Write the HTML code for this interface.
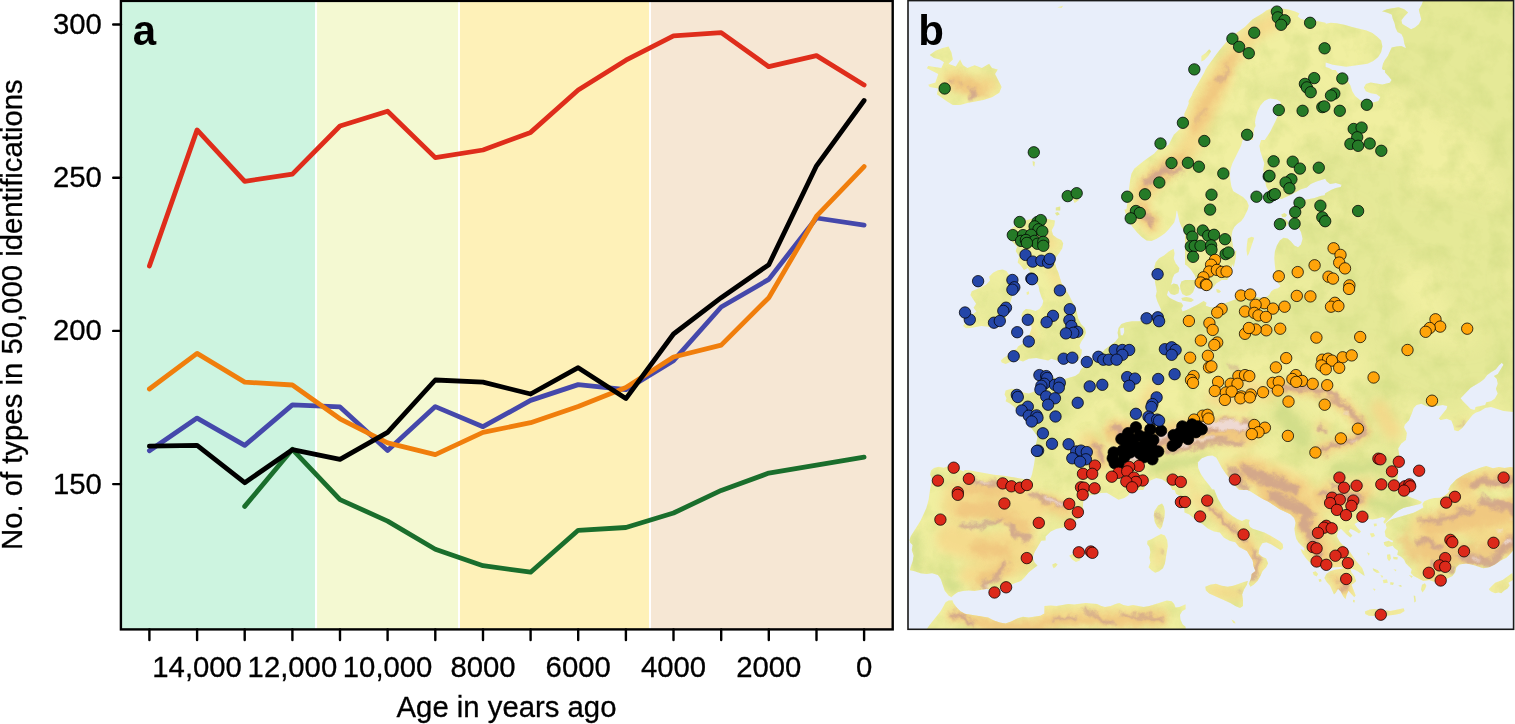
<!DOCTYPE html>
<html><head><meta charset="utf-8"><title>Figure</title>
<style>
html,body{margin:0;padding:0;background:#fff;}
body{width:1515px;height:724px;overflow:hidden;}
svg{display:block;}
.t{font-family:"Liberation Sans",Arial,Helvetica,sans-serif;font-size:29.3px;fill:#000;stroke:#000;stroke-width:0.3px;}
.b{font-family:"Liberation Sans",Arial,Helvetica,sans-serif;font-size:42px;font-weight:bold;fill:#000;}
</style></head><body>
<svg width="1515" height="724" viewBox="0 0 1515 724">
<rect width="1515" height="724" fill="#fff"/>
<rect x="120.9" y="0" width="195.15" height="629.4" fill="#cdf4e0"/>
<rect x="316.05" y="0" width="142.95" height="629.4" fill="#f4f9d2"/>
<rect x="459.0" y="0" width="191.0" height="629.4" fill="#fef1b8"/>
<rect x="650.0" y="0" width="242.70000000000005" height="629.4" fill="#f6e7d4"/>
<line x1="316.05" y1="0" x2="316.05" y2="629.4" stroke="#fff" stroke-width="2.05"/>
<line x1="459.0" y1="0" x2="459.0" y2="629.4" stroke="#fff" stroke-width="2.05"/>
<line x1="650.0" y1="0" x2="650.0" y2="629.4" stroke="#fff" stroke-width="2.05"/>
<polyline points="244.7,506.4 292.4,449.3 340.0,499.6 387.6,521.1 435.3,549.2 483.0,565.7 530.6,572.2 578.2,530.3 625.9,527.5 673.5,513.0 721.2,490.4 768.8,473.1 816.5,465.1 864.1,457.1" fill="none" stroke="#1a6e2c" stroke-width="4.8" stroke-linejoin="round" stroke-linecap="round"/>
<polyline points="149.4,450.7 197.1,418.1 244.7,445.4 292.4,404.8 340.0,406.9 387.6,450.4 435.3,406.6 483.0,426.7 530.6,400.4 578.2,384.6 625.9,389.7 673.5,360.6 721.2,307.0 768.8,279.4 816.5,218.0 864.1,225.1" fill="none" stroke="#4548ab" stroke-width="4.8" stroke-linejoin="round" stroke-linecap="round"/>
<polyline points="149.4,389.0 197.1,353.4 244.7,382.1 292.4,385.0 340.0,418.8 387.6,442.8 435.3,454.7 483.0,432.4 530.6,422.7 578.2,406.5 625.9,387.5 673.5,357.0 721.2,345.1 768.8,297.7 816.5,216.2 864.1,166.6" fill="none" stroke="#f07e0c" stroke-width="4.8" stroke-linejoin="round" stroke-linecap="round"/>
<polyline points="149.4,266.0 197.1,129.9 244.7,181.3 292.4,174.1 340.0,126.0 387.6,111.2 435.3,157.6 483.0,150.0 530.6,132.4 578.2,90.0 625.9,60.2 673.5,35.8 721.2,32.6 768.8,66.7 816.5,55.6 864.1,85.0" fill="none" stroke="#df2d1b" stroke-width="4.8" stroke-linejoin="round" stroke-linecap="round"/>
<polyline points="149.4,446.1 197.1,445.4 244.7,482.7 292.4,449.7 340.0,459.4 387.6,432.4 435.3,380.0 483.0,382.1 530.6,394.0 578.2,367.7 625.9,398.6 673.5,334.0 721.2,297.7 768.8,264.7 816.5,165.8 864.1,100.5" fill="none" stroke="#000" stroke-width="4.8" stroke-linejoin="round" stroke-linecap="round"/>
<rect x="120.9" y="0.9" width="771.8000000000001" height="628.5" fill="none" stroke="#000" stroke-width="2.4"/>
<line x1="149.4" y1="629.4" x2="149.4" y2="640" stroke="#000" stroke-width="2.4" stroke-linecap="round"/>
<line x1="197.1" y1="629.4" x2="197.1" y2="640" stroke="#000" stroke-width="2.4" stroke-linecap="round"/>
<line x1="244.7" y1="629.4" x2="244.7" y2="640" stroke="#000" stroke-width="2.4" stroke-linecap="round"/>
<line x1="292.4" y1="629.4" x2="292.4" y2="640" stroke="#000" stroke-width="2.4" stroke-linecap="round"/>
<line x1="340.0" y1="629.4" x2="340.0" y2="640" stroke="#000" stroke-width="2.4" stroke-linecap="round"/>
<line x1="387.6" y1="629.4" x2="387.6" y2="640" stroke="#000" stroke-width="2.4" stroke-linecap="round"/>
<line x1="435.3" y1="629.4" x2="435.3" y2="640" stroke="#000" stroke-width="2.4" stroke-linecap="round"/>
<line x1="483.0" y1="629.4" x2="483.0" y2="640" stroke="#000" stroke-width="2.4" stroke-linecap="round"/>
<line x1="530.6" y1="629.4" x2="530.6" y2="640" stroke="#000" stroke-width="2.4" stroke-linecap="round"/>
<line x1="578.2" y1="629.4" x2="578.2" y2="640" stroke="#000" stroke-width="2.4" stroke-linecap="round"/>
<line x1="625.9" y1="629.4" x2="625.9" y2="640" stroke="#000" stroke-width="2.4" stroke-linecap="round"/>
<line x1="673.5" y1="629.4" x2="673.5" y2="640" stroke="#000" stroke-width="2.4" stroke-linecap="round"/>
<line x1="721.2" y1="629.4" x2="721.2" y2="640" stroke="#000" stroke-width="2.4" stroke-linecap="round"/>
<line x1="768.8" y1="629.4" x2="768.8" y2="640" stroke="#000" stroke-width="2.4" stroke-linecap="round"/>
<line x1="816.5" y1="629.4" x2="816.5" y2="640" stroke="#000" stroke-width="2.4" stroke-linecap="round"/>
<line x1="864.1" y1="629.4" x2="864.1" y2="640" stroke="#000" stroke-width="2.4" stroke-linecap="round"/>
<line x1="113.2" y1="24.5" x2="120.9" y2="24.5" stroke="#000" stroke-width="2.4" stroke-linecap="round"/>
<text transform="translate(101.8,34.0) scale(1,1.0)" text-anchor="end" class="t">300</text>
<line x1="113.2" y1="177.7" x2="120.9" y2="177.7" stroke="#000" stroke-width="2.4" stroke-linecap="round"/>
<text transform="translate(101.8,187.2) scale(1,1.0)" text-anchor="end" class="t">250</text>
<line x1="113.2" y1="330.9" x2="120.9" y2="330.9" stroke="#000" stroke-width="2.4" stroke-linecap="round"/>
<text transform="translate(101.8,340.4) scale(1,1.0)" text-anchor="end" class="t">200</text>
<line x1="113.2" y1="484.1" x2="120.9" y2="484.1" stroke="#000" stroke-width="2.4" stroke-linecap="round"/>
<text transform="translate(101.8,493.6) scale(1,1.0)" text-anchor="end" class="t">150</text>
<text transform="translate(197.1,676.5) scale(1,1.0)" text-anchor="middle" class="t">14,000</text>
<text transform="translate(292.4,676.5) scale(1,1.0)" text-anchor="middle" class="t">12,000</text>
<text transform="translate(387.6,676.5) scale(1,1.0)" text-anchor="middle" class="t">10,000</text>
<text transform="translate(483.0,676.5) scale(1,1.0)" text-anchor="middle" class="t">8000</text>
<text transform="translate(578.2,676.5) scale(1,1.0)" text-anchor="middle" class="t">6000</text>
<text transform="translate(673.5,676.5) scale(1,1.0)" text-anchor="middle" class="t">4000</text>
<text transform="translate(768.8,676.5) scale(1,1.0)" text-anchor="middle" class="t">2000</text>
<text transform="translate(864.1,676.5) scale(1,1.0)" text-anchor="middle" class="t">0</text>
<text transform="translate(506.5,716.8) scale(1,1.0)" text-anchor="middle" class="t">Age in years ago</text>
<text transform="translate(22.0,314.7) rotate(-90) scale(1,1.0)" text-anchor="middle" class="t">No. of types in 50,000 identifications</text>
<text x="132.8" y="45" class="b">a</text>
<defs>
<clipPath id="mapclip"><rect x="908.0" y="0.0" width="605.5999999999999" height="629.3"/></clipPath>
<clipPath id="landclip"><path d="M909.4,540.6L910.1,540.8L909.8,542.2L912.7,545.1L911.8,549.9L913.7,555.8L912.7,561.5L910.8,566.4L909.8,570.2L914.7,571.2L920.5,573.2L926.3,574.1L932.1,573.2L937.9,575.1L940.8,579.0L944.6,590.6L948.5,595.4L951.4,597.3L954.3,594.4L958.1,592.1L963.0,590.9L968.8,590.6L974.6,590.9L986.2,589.0L992.0,589.6L997.8,589.0L1005.6,586.7L1021.0,580.9L1024.9,577.0L1028.8,572.2L1037.5,565.4L1034.6,562.5L1032.6,557.6L1034.6,551.9L1041.3,540.7L1045.6,540.6L1045.6,536.6L1050.8,531.6L1056.6,528.7L1066.3,527.1L1072.1,522.5L1081.7,516.1L1083.7,511.3L1082.9,506.4L1083.3,501.6L1084.7,497.7L1089.5,495.4L1101.1,492.9L1106.8,492.7L1118.5,499.7L1124.3,498.1L1128.1,495.4L1131.5,490.0L1143.3,490.0L1145.6,485.3L1150.4,480.6L1156.3,478.0L1162.0,479.2L1166.9,482.4L1170.7,486.3L1172.2,490.0L1174.6,490.1L1176.1,493.9L1184.3,497.9L1184.4,512.4L1188.9,514.2L1194.7,519.0L1202.4,523.9L1208.2,528.7L1214.0,531.6L1219.8,532.6L1223.7,537.4L1229.5,540.7L1235.3,542.2L1239.1,547.0L1246.9,550.9L1252.7,560.6L1253.6,566.4L1255.5,571.1L1251.7,574.1L1250.7,578.9L1248.8,583.8L1250.4,586.7L1253.6,584.8L1257.5,580.9L1260.4,576.0L1262.4,571.2L1266.2,567.3L1268.1,563.5L1266.2,558.6L1262.3,556.7L1258.5,553.8L1259.5,548.0L1262.3,543.3L1266.3,542.2L1271.1,544.2L1280.7,550.3L1283.2,548.0L1282.7,544.1L1279.8,541.2L1270.1,535.4L1264.3,532.5L1252.7,528.7L1249.9,526.8L1248.8,522.9L1249.8,520.0L1245.9,519.0L1242.0,520.9L1237.2,519.0L1232.4,516.1L1227.6,512.2L1223.7,508.4L1217.9,498.7L1214.2,489.4L1212.1,489.3L1209.4,485.4L1204.6,479.5L1200.7,473.8L1198.2,467.9L1197.8,462.2L1201.7,458.3L1207.5,456.0L1212.3,455.4L1216.2,457.4L1222.0,468.0L1225.9,473.8L1229.7,478.6L1233.6,484.4L1239.2,490.0L1247.3,490.0L1249.8,491.0L1262.3,498.7L1268.2,501.6L1279.8,509.3L1290.4,514.2L1294.2,518.0L1295.6,522.8L1294.4,528.7L1295.2,534.5L1296.4,539.3L1299.1,543.2L1304.4,548.2L1304.2,551.6L1303.0,549.9L1300.6,549.0L1302.0,552.8L1303.9,555.4L1304.3,555.4L1304.4,556.2L1306.9,559.6L1310.8,563.5L1316.6,566.4L1328.2,568.3L1334.0,567.3L1340.7,567.0L1343.5,567.9L1343.4,568.5L1335.0,569.7L1330.1,571.2L1326.3,574.1L1324.3,578.0L1326.7,581.9L1330.1,585.7L1334.0,594.4L1335.9,592.5L1338.0,588.8L1340.8,591.5L1343.3,596.4L1345.6,599.3L1346.6,594.4L1348.5,590.8L1354.3,597.3L1355.7,595.4L1351.5,584.8L1354.3,582.8L1356.2,580.9L1354.3,576.0L1351.4,572.2L1350.6,569.1L1353.8,569.3L1357.6,571.2L1364.6,576.0L1364.0,572.8L1362.0,567.7L1355.7,560.6L1349.9,551.9L1346.6,548.0L1342.7,545.1L1339.4,541.2L1336.9,536.4L1337.9,531.6L1340.9,528.8L1346.6,534.5L1350.4,537.4L1352.4,535.4L1348.6,531.6L1350.4,528.8L1354.3,530.6L1359.1,533.5L1361.1,531.6L1357.2,527.7L1354.5,524.0L1358.2,521.9L1363.0,520.0L1367.8,519.0L1372.7,519.4L1377.5,518.6L1382.4,517.1L1385.6,518.6L1383.3,521.9L1384.7,523.8L1394.9,513.2L1398.8,510.3L1403.6,507.8L1420.1,503.9L1422.0,502.0L1417.1,499.7L1411.3,497.7L1405.5,494.8L1399.8,492.9L1396.4,489.4L1396.7,483.4L1397.8,475.7L1399.2,454.4L1398.2,448.6L1401.1,443.8L1405.9,439.9L1406.9,433.1L1404.0,427.3L1405.0,424.4L1408.8,420.6L1411.7,413.8L1413.7,408.0L1416.6,405.1L1421.4,403.8L1427.2,406.5L1436.9,406.1L1442.7,405.1L1447.3,406.0L1446.5,409.0L1438.8,418.6L1440.7,420.0L1446.6,418.7L1451.3,420.6L1453.3,425.4L1454.3,430.2L1458.1,431.2L1462.0,428.3L1472.7,414.8L1475.6,412.8L1480.4,410.9L1485.2,408.0L1491.0,407.1L1503.6,410.9L1515.6,412.2L1515.6,0.0L1423.3,0.0L1421.7,4.8L1418.8,9.7L1421.3,19.4L1418.8,24.2L1414.9,27.5L1411.1,29.3L1402.3,24.1L1401.4,20.2L1404.3,16.4L1408.1,12.6L1404.3,9.3L1398.5,7.3L1386.9,9.3L1382.0,11.2L1386.9,12.6L1391.7,14.5L1392.7,18.4L1394.6,23.2L1395.6,28.0L1397.5,31.9L1401.4,33.9L1403.3,37.7L1404.3,43.5L1405.9,47.8L1405.5,48.0L1401.4,46.0L1396.5,46.4L1391.7,47.4L1387.8,56.1L1384.9,59.9L1383.0,63.8L1382.0,68.6L1383.1,70.0L1384.9,70.1L1385.0,72.6L1388.8,76.4L1391.6,80.1L1389.8,82.7L1382.3,84.5L1370.7,82.6L1365.9,83.9L1363.9,87.4L1365.9,91.3L1370.7,93.2L1376.5,94.2L1380.3,97.1L1378.4,100.9L1372.6,102.5L1365.9,101.9L1360.0,99.9L1355.2,96.1L1352.3,91.3L1350.4,85.5L1347.5,80.6L1343.6,75.8L1337.8,72.9L1335.6,70.0L1332.5,70.0L1328.9,68.1L1325.6,66.9L1325.6,62.8L1325.9,62.5L1332.7,64.8L1346.3,66.7L1367.5,63.8L1373.3,60.9L1378.2,57.0L1381.1,52.2L1382.4,46.4L1381.1,40.6L1377.2,36.7L1372.4,32.9L1366.6,30.6L1352.1,27.1L1344.3,24.7L1336.6,23.2L1330.8,22.8L1325.9,23.8L1325.6,22.7L1318.4,21.3L1306.8,20.3L1301.1,19.0L1297.7,16.4L1299.5,13.5L1295.2,11.6L1289.4,9.7L1283.6,8.7L1275.9,6.8L1266.2,10.6L1262.3,13.5L1252.7,19.3L1244.9,27.1L1234.3,34.4L1230.4,37.7L1226.6,41.6L1217.9,52.2L1207.2,66.7L1205.9,69.3L1205.5,69.4L1204.3,72.5L1192.7,92.8L1191.8,95.4L1188.5,100.9L1188.8,103.4L1186.9,108.3L1184.4,113.4L1184.4,122.9L1181.6,127.6L1173.8,134.8L1168.8,144.5L1165.0,147.3L1161.1,147.3L1157.6,149.7L1154.3,153.5L1143.7,160.9L1134.4,168.6L1131.5,173.5L1130.1,180.2L1126.5,209.2L1124.4,209.4L1126.3,215.8L1129.2,221.6L1132.1,226.4L1136.9,232.2L1141.7,237.1L1146.6,240.6L1151.4,240.9L1156.2,239.0L1161.1,236.1L1165.0,233.2L1168.8,229.3L1174.2,222.6L1175.6,217.7L1176.6,210.8L1177.1,210.7L1179.4,221.6L1181.4,226.4L1184.3,231.3L1185.0,235.6L1185.0,264.4L1186.9,265.7L1190.8,269.6L1194.7,275.3L1196.2,280.0L1198.0,280.1L1199.8,284.4L1202.7,288.3L1206.5,290.2L1210.4,290.2L1213.3,287.3L1216.2,283.5L1221.7,280.0L1227.2,280.0L1228.5,277.3L1232.6,264.5L1233.2,264.6L1233.0,267.6L1234.1,265.7L1235.7,257.9L1236.4,250.6L1234.9,251.2L1234.6,252.7L1234.1,252.8L1231.4,236.7L1232.4,230.9L1234.3,227.0L1237.2,224.1L1241.1,221.2L1244.0,217.3L1247.8,209.6L1248.8,205.7L1246.9,200.9L1243.0,197.1L1233.3,191.2L1231.4,186.4L1230.4,180.6L1229.9,174.8L1230.5,169.0L1232.4,163.2L1241.1,145.8L1242.7,140.1L1252.8,140.0L1254.3,128.2L1255.6,126.1L1255.0,122.4L1255.6,118.0L1257.5,111.2L1260.4,105.4L1264.3,100.9L1268.1,99.1L1270.2,98.6L1276.9,99.4L1280.4,101.7L1280.7,102.3L1280.2,107.7L1278.3,114.5L1275.9,120.3L1270.1,131.9L1264.8,139.9L1261.1,140.0L1259.4,145.8L1260.4,151.6L1264.3,163.2L1263.3,169.0L1263.9,174.8L1266.2,186.4L1268.5,190.7L1272.0,195.1L1276.9,198.0L1281.7,199.0L1290.4,195.1L1301.0,189.3L1306.8,187.4L1310.7,184.1L1316.5,181.6L1325.2,178.8L1326.6,181.2L1330.1,184.1L1335.9,183.1L1341.6,184.7L1340.7,187.0L1335.9,188.0L1331.0,189.9L1325.0,193.5L1324.8,195.3L1320.4,196.1L1314.6,198.0L1303.0,200.3L1298.1,202.3L1293.7,206.1L1291.0,210.0L1289.4,214.4L1293.3,224.1L1298.1,226.7L1301.0,231.9L1302.6,238.7L1301.0,244.4L1298.1,247.2L1294.3,245.4L1291.0,241.5L1287.5,238.6L1283.6,237.7L1279.8,240.6L1276.9,245.4L1274.9,251.2L1274.3,258.0L1274.9,265.7L1276.7,280.0L1278.3,283.5L1280.6,286.1L1277.9,288.3L1274.0,289.3L1271.1,291.6L1269.2,295.1L1266.2,297.0L1261.4,298.0L1245.0,295.2L1244.8,297.4L1236.5,299.0L1213.3,307.6L1209.4,307.1L1205.8,305.8L1206.5,302.8L1203.6,300.9L1197.8,304.4L1186.2,310.2L1182.5,311.4L1181.4,308.6L1183.3,305.7L1181.4,302.8L1177.5,301.8L1169.8,298.0L1166.9,295.1L1168.3,290.4L1170.8,294.1L1174.6,295.1L1178.5,293.2L1179.4,288.3L1177.5,284.4L1173.6,283.5L1171.2,284.7L1170.8,284.5L1171.7,282.5L1172.7,277.7L1174.6,273.9L1178.5,271.9L1179.4,268.0L1175.6,263.2L1173.7,258.4L1174.6,253.5L1173.6,248.7L1168.8,251.6L1164.0,255.4L1159.1,258.3L1155.7,262.2L1154.3,267.0L1155.7,276.7L1154.9,281.5L1156.8,291.2L1155.7,296.0L1157.2,300.9L1161.1,309.6L1160.1,313.5L1158.2,317.3L1154.3,319.3L1149.5,320.2L1143.7,321.2L1132.1,321.2L1126.3,322.2L1121.4,324.1L1118.5,328.0L1117.6,332.8L1118.5,337.6L1115.6,341.5L1104.4,349.7L1104.3,350.6L1094.6,358.7L1088.8,362.6L1083.9,366.4L1081.0,369.3L1079.1,373.2L1075.2,376.1L1064.6,379.0L1059.8,379.0L1054.0,378.1L1050.1,375.1L1046.2,371.3L1041.4,370.3L1037.5,372.2L1036.5,377.1L1038.5,381.9L1039.4,386.7L1037.4,390.6L1028.8,393.5L1023.0,392.5L1017.2,389.6L1011.4,388.7L1005.6,390.6L1004.6,394.5L1006.5,398.3L1005.6,401.2L1009.5,403.2L1013.5,406.2L1020.9,413.6L1024.9,419.6L1036.9,435.5L1037.5,437.0L1036.6,441.8L1035.0,446.7L1034.2,452.5L1035.0,457.9L1033.8,465.8L1032.2,473.5L1031.1,477.0L1029.8,479.1L1024.9,479.2L1003.7,475.7L994.0,474.7L968.9,470.3L964.4,469.9L964.4,471.3L964.0,471.6L954.3,467.7L948.5,466.1L943.7,467.7L938.8,466.7L934.0,468.1L931.1,470.6L930.1,474.4L932.1,479.3L930.0,490.0L928.6,499.8L926.3,508.3L920.5,520.8L910.8,536.3ZM1475.6,407.0L1474.5,409.9L1470.7,409.0L1463.0,401.3L1460.6,398.2L1470.7,387.7L1480.4,381.9L1484.2,379.0L1487.2,375.1L1491.0,372.2L1495.9,369.3L1498.8,365.5L1501.8,362.7L1503.5,364.7L1497.8,374.1L1493.9,376.1L1496.8,379.1L1497.8,383.8L1495.9,388.7L1497.7,393.6L1494.9,398.4L1491.0,401.2L1486.2,402.2L1485.2,405.1ZM1123.6,327.6L1124.0,327.9L1124.3,331.9L1122.8,335.6L1120.7,335.3L1120.1,328.5ZM1383.7,542.2L1384.3,545.1L1387.0,547.0L1392.0,546.1L1392.5,545.6L1394.3,548.0L1398.1,550.8L1397.2,554.8L1401.1,556.7L1404.0,559.6L1405.9,563.5L1411.7,569.2L1410.8,573.1L1413.7,576.0L1423.3,580.9L1429.2,579.9L1434.9,581.9L1440.7,580.9L1448.5,578.0L1452.4,576.0L1455.2,572.2L1456.2,567.4L1459.2,564.4L1465.9,563.5L1471.7,564.4L1483.3,568.3L1489.1,567.3L1494.9,564.5L1500.7,560.6L1506.5,557.7L1510.4,553.8L1513.4,550.0L1515.6,548.4L1515.6,468.2L1510.4,467.0L1504.6,468.0L1498.8,467.0L1493.0,468.3L1486.2,466.0L1479.4,468.0L1471.7,470.9L1463.9,474.7L1456.2,479.6L1450.4,485.4L1448.1,490.0L1449.4,490.0L1449.6,490.5L1448.1,492.9L1444.6,495.8L1439.8,497.7L1434.0,498.1L1429.1,499.3L1424.3,501.2L1422.4,503.9L1423.3,507.4L1418.5,510.3L1413.7,512.8L1392.4,519.0L1388.5,520.9L1385.6,523.8L1386.6,527.7L1384.7,531.6L1385.6,536.4L1389.5,539.3L1393.2,540.9L1392.2,542.6L1388.5,540.7ZM1488.9,589.0L1489.7,590.4L1491.6,591.7L1495.1,593.3L1498.5,592.5L1501.3,593.3L1504.2,590.4L1507.5,588.4L1509.6,585.5L1508.4,582.8L1513.1,580.1L1512.3,573.0L1502.6,580.1L1495.1,582.8ZM1421.0,589.6L1422.4,592.5L1424.9,589.6L1426.4,585.7L1424.9,583.2L1422.0,584.8ZM1413.7,595.4L1414.4,602.5L1414.4,602.5L1416.0,601.2L1415.2,596.0ZM1408.8,575.1L1411.7,578.0L1411.7,578.0L1412.7,576.0ZM1364.9,611.4L1365.3,614.1L1368.8,615.7L1374.6,616.1L1386.6,615.7L1394.9,614.7L1400.7,613.4L1404.6,610.9L1403.6,608.3L1390.5,610.9L1374.4,609.0L1369.8,609.5ZM1398.2,585.7L1401.7,587.1L1401.7,587.1L1401.1,585.1ZM1393.0,556.7L1393.6,559.2L1397.4,559.6L1397.8,557.3ZM1393.4,569.3L1395.9,571.6L1395.9,571.6L1396.3,569.7ZM1390.1,584.4L1393.0,585.1L1393.9,582.8L1390.5,581.9ZM1387.0,554.8L1387.2,558.6L1389.1,561.2L1391.0,558.6L1390.1,554.2ZM1382.7,579.9L1383.5,583.2L1387.8,582.8L1387.0,579.3ZM1383.3,576.0L1380.4,575.1L1382.0,578.0ZM1372.7,568.3L1373.6,570.8L1376.9,573.1L1379.8,572.8L1377.9,570.2ZM1373.6,523.8L1374.2,526.4L1376.9,525.8L1376.5,523.5ZM1372.7,588.6L1374.6,590.9L1374.6,590.9L1375.6,589.0ZM1369.8,533.5L1371.7,537.4L1375.0,536.0L1373.6,532.9ZM1366.9,552.3L1368.8,555.7L1368.8,555.7L1369.8,553.4ZM1353.0,602.1L1354.5,602.5L1354.9,600.2L1353.0,599.8ZM1318.5,579.3L1319.3,582.0L1321.6,581.3L1320.9,579.0ZM1312.7,572.2L1313.7,575.1L1316.6,576.6L1318.1,574.1L1315.6,571.2ZM1274.9,221.2L1276.9,227.0L1281.7,228.0L1286.5,226.0L1288.5,222.2L1285.6,219.3L1279.8,218.3ZM1281.3,214.4L1282.1,217.0L1285.2,217.3L1287.1,215.0L1284.6,213.1ZM1247.3,256.0L1248.8,254.1L1254.2,237.7L1251.7,236.7L1247.8,238.6L1246.9,244.4L1246.5,250.2ZM1205.3,586.7L1205.9,590.6L1209.2,593.5L1230.4,603.1L1235.3,606.0L1240.1,608.0L1243.0,606.0L1243.0,600.2L1242.1,594.4L1244.0,589.6L1246.9,584.8L1247.8,580.9L1244.0,581.9L1233.3,585.7L1227.6,586.7L1221.7,585.7L1215.9,583.8L1210.1,584.8ZM1231.4,619.6L1233.3,623.0L1235.7,623.4L1234.3,621.1ZM1216.2,288.9L1216.8,292.2L1219.1,293.1L1221.0,291.6L1219.1,289.7ZM1201.4,61.5L1204.3,59.9L1208.2,56.1L1211.1,51.2L1209.2,49.3L1205.3,53.2L1201.4,56.1ZM1180.0,285.4L1180.4,289.3L1182.3,294.1L1186.2,296.0L1190.1,295.1L1193.0,292.2L1194.9,287.4L1195.9,282.5L1195.4,280.0L1185.2,280.0L1181.4,281.5ZM1181.4,298.0L1182.3,300.5L1186.2,301.3L1191.0,301.9L1193.9,299.9L1191.0,298.0L1186.2,297.0ZM926.1,630.0L1044.1,630.0L1044.4,630.6L1185.6,630.6L1185.6,626.8L1182.7,624.4L1180.4,619.6L1180.0,614.8L1182.3,610.9L1185.6,609.2L1185.6,604.3L1179.4,607.0L1175.6,607.5L1174.2,604.1L1171.7,601.2L1166.8,600.6L1149.4,606.0L1143.6,607.0L1133.0,605.1L1128.1,606.0L1123.3,605.1L1119.4,603.1L1115.6,604.1L1110.7,606.0L1105.0,607.0L1101.1,606.0L1097.2,604.1L1085.6,603.1L1074.0,604.5L1068.2,604.1L1056.6,606.0L1050.8,605.6L1044.4,606.0L1044.4,613.6L1040.4,615.7L1028.8,617.6L1023.0,616.7L1017.1,618.6L1011.3,621.5L1005.5,623.4L999.7,622.5L993.9,620.5L988.1,617.6L964.9,613.7L960.1,610.9L956.3,607.0L953.4,603.1L952.4,600.2L948.5,600.6L945.6,602.2L940.8,610.9L929.2,625.4ZM1147.1,544.1L1149.4,547.1L1150.4,551.9L1149.4,557.7L1150.4,562.5L1148.5,567.3L1151.4,570.2L1155.2,572.8L1159.1,571.2L1163.0,568.3L1164.9,563.5L1167.8,546.1L1167.2,540.3L1164.9,535.4L1161.0,534.1L1156.2,536.4L1151.4,539.3L1147.5,540.7ZM1153.7,516.1L1154.8,521.9L1157.2,526.7L1160.1,529.6L1162.0,526.7L1164.5,517.1L1164.9,511.3L1163.9,506.4L1162.0,503.5L1158.1,505.5L1154.3,511.3ZM1088.5,549.9L1089.1,552.3L1092.4,553.4L1095.7,551.5L1093.3,549.0ZM1000.8,360.6L1001.7,362.6L1005.6,363.9L1011.4,361.6L1018.1,360.1L1023.0,361.6L1028.8,358.7L1036.5,358.1L1048.1,360.6L1051.2,358.7L1061.7,362.0L1067.5,363.1L1073.3,363.1L1077.5,361.2L1080.1,357.7L1081.4,353.9L1081.9,349.4L1080.5,349.3L1079.5,345.7L1081.0,341.9L1084.1,337.6L1086.0,332.8L1084.9,328.0L1081.0,324.1L1078.1,318.3L1076.8,312.5L1074.8,306.7L1069.0,295.1L1061.7,283.5L1058.2,272.3L1056.3,268.0L1054.9,262.6L1055.9,257.4L1059.4,252.9L1062.3,248.3L1063.2,243.3L1061.3,240.0L1056.9,238.0L1053.0,235.1L1051.7,230.3L1054.3,225.5L1054.9,220.6L1042.3,218.1L1032.7,218.7L1025.0,220.6L1017.2,224.5L1011.4,228.4L1007.5,233.2L1009.5,239.0L1017.1,246.7L1015.7,251.0L1019.1,256.4L1017.6,262.6L1021.1,266.1L1024.0,269.9L1027.8,268.1L1030.3,271.8L1027.3,276.7L1026.5,281.9L1030.7,284.4L1036.7,283.6L1038.5,285.8L1039.5,291.2L1041.4,297.0L1043.3,300.9L1042.3,305.1L1039.4,309.0L1035.6,310.9L1030.7,309.6L1025.9,309.0L1023.0,311.5L1021.1,315.4L1023.0,318.3L1026.9,320.2L1030.8,323.2L1031.7,328.0L1029.8,333.8L1026.9,339.5L1023.0,343.4L1018.2,346.3L1016.4,349.3L1015.0,349.4L1013.3,352.0L1003.7,357.7ZM1069.2,555.7L1072.1,559.6L1075.9,561.9L1079.8,560.6L1080.8,557.7L1077.9,554.8L1073.0,553.8ZM1071.8,197.2L1074.7,203.0L1079.0,200.1L1076.1,195.8ZM1057.3,7.3L1061.6,8.1L1063.1,5.8L1063.1,5.8ZM1055.8,210.6L1060.2,210.6L1060.2,206.5L1055.8,207.4ZM1054.9,212.9L1056.9,215.8L1059.8,214.3L1057.8,211.9ZM1052.3,564.4L1052.7,566.4L1053.7,568.3L1055.6,567.0L1057.6,564.4L1055.6,563.1ZM1032.6,161.0L1032.9,165.3L1034.4,166.8L1034.9,161.9ZM1026.5,292.2L1026.9,295.1L1029.2,294.1L1028.8,291.2ZM963.0,326.0L965.9,328.3L970.8,328.0L981.4,326.0L993.0,327.2L997.8,326.0L1002.1,323.7L1005.2,319.3L1007.1,314.4L1008.5,308.6L1013.7,291.2L1014.3,284.5L1011.4,279.6L1009.0,274.8L1006.5,270.9L1002.6,269.6L997.8,270.3L993.0,272.8L989.1,276.7L990.0,280.6L986.2,284.4L981.4,287.3L971.7,291.2L970.4,295.1L976.1,303.7L973.6,307.7L976.4,311.5L972.7,314.4L969.8,317.3L968.4,321.2L965.3,323.1ZM926.8,68.2L938.3,74.1L935.4,82.6L928.2,84.7L929.7,87.0L938.2,88.5L936.9,94.3L947.1,101.5L952.9,105.0L960.1,105.0L967.4,103.0L983.3,100.1L992.0,97.2L999.3,92.8L1001.6,87.0L995.0,74.0L997.8,69.6L992.0,68.1L989.1,63.8L981.9,68.1L974.6,65.3L967.4,68.1L963.0,65.2L960.1,59.5L955.8,66.6L948.9,63.9L948.8,63.5L952.9,59.5L951.4,52.2L948.5,46.4L942.7,47.9L935.5,50.8L929.7,55.1L934.0,58.0L939.8,59.5L944.0,62.3L941.3,68.0L928.2,66.1Z"/></clipPath>
<filter id="bl_green" x="880" y="-30" width="670" height="700" filterUnits="userSpaceOnUse" primitiveUnits="userSpaceOnUse" color-interpolation-filters="sRGB"><feGaussianBlur stdDeviation="9.0"/></filter>
<filter id="bl_orange" x="880" y="-30" width="670" height="700" filterUnits="userSpaceOnUse" primitiveUnits="userSpaceOnUse" color-interpolation-filters="sRGB"><feGaussianBlur stdDeviation="5.0"/></filter>
<filter id="bl_dorange" x="880" y="-30" width="670" height="700" filterUnits="userSpaceOnUse" primitiveUnits="userSpaceOnUse" color-interpolation-filters="sRGB"><feTurbulence type="fractalNoise" baseFrequency="0.09" numOctaves="3" seed="7" result="n"/><feGaussianBlur in="SourceGraphic" stdDeviation="3.0" result="b"/><feDisplacementMap in="b" in2="n" scale="10" xChannelSelector="R" yChannelSelector="G"/></filter>
<filter id="bl_green2" x="880" y="-30" width="670" height="700" filterUnits="userSpaceOnUse" primitiveUnits="userSpaceOnUse" color-interpolation-filters="sRGB"><feTurbulence type="fractalNoise" baseFrequency="0.09" numOctaves="3" seed="7" result="n"/><feGaussianBlur in="SourceGraphic" stdDeviation="3.0" result="b"/><feDisplacementMap in="b" in2="n" scale="6" xChannelSelector="R" yChannelSelector="G"/></filter>
<filter id="bl_brown" x="880" y="-30" width="670" height="700" filterUnits="userSpaceOnUse" primitiveUnits="userSpaceOnUse" color-interpolation-filters="sRGB"><feTurbulence type="fractalNoise" baseFrequency="0.09" numOctaves="3" seed="7" result="n"/><feGaussianBlur in="SourceGraphic" stdDeviation="1.6" result="b"/><feDisplacementMap in="b" in2="n" scale="12" xChannelSelector="R" yChannelSelector="G"/></filter>
<filter id="bl_white" x="880" y="-30" width="670" height="700" filterUnits="userSpaceOnUse" primitiveUnits="userSpaceOnUse" color-interpolation-filters="sRGB"><feTurbulence type="fractalNoise" baseFrequency="0.09" numOctaves="3" seed="7" result="n"/><feGaussianBlur in="SourceGraphic" stdDeviation="0.8" result="b"/><feDisplacementMap in="b" in2="n" scale="6" xChannelSelector="R" yChannelSelector="G"/></filter>
<filter id="tex" x="900" y="-5" width="620" height="640" filterUnits="userSpaceOnUse" primitiveUnits="userSpaceOnUse" color-interpolation-filters="sRGB"><feTurbulence type="fractalNoise" baseFrequency="0.045" numOctaves="4" seed="3"/><feColorMatrix type="matrix" values="0 0 0 0 0.78  0 0 0 0 0.84  0 0 0 0 0.48  2.2 0 0 0 -0.95"/></filter>
</defs>
<g clip-path="url(#mapclip)">
<rect x="908.0" y="0.0" width="605.5999999999999" height="629.3" fill="#e8eefa"/>
<path d="M909.4,540.6L910.1,540.8L909.8,542.2L912.7,545.1L911.8,549.9L913.7,555.8L912.7,561.5L910.8,566.4L909.8,570.2L914.7,571.2L920.5,573.2L926.3,574.1L932.1,573.2L937.9,575.1L940.8,579.0L944.6,590.6L948.5,595.4L951.4,597.3L954.3,594.4L958.1,592.1L963.0,590.9L968.8,590.6L974.6,590.9L986.2,589.0L992.0,589.6L997.8,589.0L1005.6,586.7L1021.0,580.9L1024.9,577.0L1028.8,572.2L1037.5,565.4L1034.6,562.5L1032.6,557.6L1034.6,551.9L1041.3,540.7L1045.6,540.6L1045.6,536.6L1050.8,531.6L1056.6,528.7L1066.3,527.1L1072.1,522.5L1081.7,516.1L1083.7,511.3L1082.9,506.4L1083.3,501.6L1084.7,497.7L1089.5,495.4L1101.1,492.9L1106.8,492.7L1118.5,499.7L1124.3,498.1L1128.1,495.4L1131.5,490.0L1143.3,490.0L1145.6,485.3L1150.4,480.6L1156.3,478.0L1162.0,479.2L1166.9,482.4L1170.7,486.3L1172.2,490.0L1174.6,490.1L1176.1,493.9L1184.3,497.9L1184.4,512.4L1188.9,514.2L1194.7,519.0L1202.4,523.9L1208.2,528.7L1214.0,531.6L1219.8,532.6L1223.7,537.4L1229.5,540.7L1235.3,542.2L1239.1,547.0L1246.9,550.9L1252.7,560.6L1253.6,566.4L1255.5,571.1L1251.7,574.1L1250.7,578.9L1248.8,583.8L1250.4,586.7L1253.6,584.8L1257.5,580.9L1260.4,576.0L1262.4,571.2L1266.2,567.3L1268.1,563.5L1266.2,558.6L1262.3,556.7L1258.5,553.8L1259.5,548.0L1262.3,543.3L1266.3,542.2L1271.1,544.2L1280.7,550.3L1283.2,548.0L1282.7,544.1L1279.8,541.2L1270.1,535.4L1264.3,532.5L1252.7,528.7L1249.9,526.8L1248.8,522.9L1249.8,520.0L1245.9,519.0L1242.0,520.9L1237.2,519.0L1232.4,516.1L1227.6,512.2L1223.7,508.4L1217.9,498.7L1214.2,489.4L1212.1,489.3L1209.4,485.4L1204.6,479.5L1200.7,473.8L1198.2,467.9L1197.8,462.2L1201.7,458.3L1207.5,456.0L1212.3,455.4L1216.2,457.4L1222.0,468.0L1225.9,473.8L1229.7,478.6L1233.6,484.4L1239.2,490.0L1247.3,490.0L1249.8,491.0L1262.3,498.7L1268.2,501.6L1279.8,509.3L1290.4,514.2L1294.2,518.0L1295.6,522.8L1294.4,528.7L1295.2,534.5L1296.4,539.3L1299.1,543.2L1304.4,548.2L1304.2,551.6L1303.0,549.9L1300.6,549.0L1302.0,552.8L1303.9,555.4L1304.3,555.4L1304.4,556.2L1306.9,559.6L1310.8,563.5L1316.6,566.4L1328.2,568.3L1334.0,567.3L1340.7,567.0L1343.5,567.9L1343.4,568.5L1335.0,569.7L1330.1,571.2L1326.3,574.1L1324.3,578.0L1326.7,581.9L1330.1,585.7L1334.0,594.4L1335.9,592.5L1338.0,588.8L1340.8,591.5L1343.3,596.4L1345.6,599.3L1346.6,594.4L1348.5,590.8L1354.3,597.3L1355.7,595.4L1351.5,584.8L1354.3,582.8L1356.2,580.9L1354.3,576.0L1351.4,572.2L1350.6,569.1L1353.8,569.3L1357.6,571.2L1364.6,576.0L1364.0,572.8L1362.0,567.7L1355.7,560.6L1349.9,551.9L1346.6,548.0L1342.7,545.1L1339.4,541.2L1336.9,536.4L1337.9,531.6L1340.9,528.8L1346.6,534.5L1350.4,537.4L1352.4,535.4L1348.6,531.6L1350.4,528.8L1354.3,530.6L1359.1,533.5L1361.1,531.6L1357.2,527.7L1354.5,524.0L1358.2,521.9L1363.0,520.0L1367.8,519.0L1372.7,519.4L1377.5,518.6L1382.4,517.1L1385.6,518.6L1383.3,521.9L1384.7,523.8L1394.9,513.2L1398.8,510.3L1403.6,507.8L1420.1,503.9L1422.0,502.0L1417.1,499.7L1411.3,497.7L1405.5,494.8L1399.8,492.9L1396.4,489.4L1396.7,483.4L1397.8,475.7L1399.2,454.4L1398.2,448.6L1401.1,443.8L1405.9,439.9L1406.9,433.1L1404.0,427.3L1405.0,424.4L1408.8,420.6L1411.7,413.8L1413.7,408.0L1416.6,405.1L1421.4,403.8L1427.2,406.5L1436.9,406.1L1442.7,405.1L1447.3,406.0L1446.5,409.0L1438.8,418.6L1440.7,420.0L1446.6,418.7L1451.3,420.6L1453.3,425.4L1454.3,430.2L1458.1,431.2L1462.0,428.3L1472.7,414.8L1475.6,412.8L1480.4,410.9L1485.2,408.0L1491.0,407.1L1503.6,410.9L1515.6,412.2L1515.6,0.0L1423.3,0.0L1421.7,4.8L1418.8,9.7L1421.3,19.4L1418.8,24.2L1414.9,27.5L1411.1,29.3L1402.3,24.1L1401.4,20.2L1404.3,16.4L1408.1,12.6L1404.3,9.3L1398.5,7.3L1386.9,9.3L1382.0,11.2L1386.9,12.6L1391.7,14.5L1392.7,18.4L1394.6,23.2L1395.6,28.0L1397.5,31.9L1401.4,33.9L1403.3,37.7L1404.3,43.5L1405.9,47.8L1405.5,48.0L1401.4,46.0L1396.5,46.4L1391.7,47.4L1387.8,56.1L1384.9,59.9L1383.0,63.8L1382.0,68.6L1383.1,70.0L1384.9,70.1L1385.0,72.6L1388.8,76.4L1391.6,80.1L1389.8,82.7L1382.3,84.5L1370.7,82.6L1365.9,83.9L1363.9,87.4L1365.9,91.3L1370.7,93.2L1376.5,94.2L1380.3,97.1L1378.4,100.9L1372.6,102.5L1365.9,101.9L1360.0,99.9L1355.2,96.1L1352.3,91.3L1350.4,85.5L1347.5,80.6L1343.6,75.8L1337.8,72.9L1335.6,70.0L1332.5,70.0L1328.9,68.1L1325.6,66.9L1325.6,62.8L1325.9,62.5L1332.7,64.8L1346.3,66.7L1367.5,63.8L1373.3,60.9L1378.2,57.0L1381.1,52.2L1382.4,46.4L1381.1,40.6L1377.2,36.7L1372.4,32.9L1366.6,30.6L1352.1,27.1L1344.3,24.7L1336.6,23.2L1330.8,22.8L1325.9,23.8L1325.6,22.7L1318.4,21.3L1306.8,20.3L1301.1,19.0L1297.7,16.4L1299.5,13.5L1295.2,11.6L1289.4,9.7L1283.6,8.7L1275.9,6.8L1266.2,10.6L1262.3,13.5L1252.7,19.3L1244.9,27.1L1234.3,34.4L1230.4,37.7L1226.6,41.6L1217.9,52.2L1207.2,66.7L1205.9,69.3L1205.5,69.4L1204.3,72.5L1192.7,92.8L1191.8,95.4L1188.5,100.9L1188.8,103.4L1186.9,108.3L1184.4,113.4L1184.4,122.9L1181.6,127.6L1173.8,134.8L1168.8,144.5L1165.0,147.3L1161.1,147.3L1157.6,149.7L1154.3,153.5L1143.7,160.9L1134.4,168.6L1131.5,173.5L1130.1,180.2L1126.5,209.2L1124.4,209.4L1126.3,215.8L1129.2,221.6L1132.1,226.4L1136.9,232.2L1141.7,237.1L1146.6,240.6L1151.4,240.9L1156.2,239.0L1161.1,236.1L1165.0,233.2L1168.8,229.3L1174.2,222.6L1175.6,217.7L1176.6,210.8L1177.1,210.7L1179.4,221.6L1181.4,226.4L1184.3,231.3L1185.0,235.6L1185.0,264.4L1186.9,265.7L1190.8,269.6L1194.7,275.3L1196.2,280.0L1198.0,280.1L1199.8,284.4L1202.7,288.3L1206.5,290.2L1210.4,290.2L1213.3,287.3L1216.2,283.5L1221.7,280.0L1227.2,280.0L1228.5,277.3L1232.6,264.5L1233.2,264.6L1233.0,267.6L1234.1,265.7L1235.7,257.9L1236.4,250.6L1234.9,251.2L1234.6,252.7L1234.1,252.8L1231.4,236.7L1232.4,230.9L1234.3,227.0L1237.2,224.1L1241.1,221.2L1244.0,217.3L1247.8,209.6L1248.8,205.7L1246.9,200.9L1243.0,197.1L1233.3,191.2L1231.4,186.4L1230.4,180.6L1229.9,174.8L1230.5,169.0L1232.4,163.2L1241.1,145.8L1242.7,140.1L1252.8,140.0L1254.3,128.2L1255.6,126.1L1255.0,122.4L1255.6,118.0L1257.5,111.2L1260.4,105.4L1264.3,100.9L1268.1,99.1L1270.2,98.6L1276.9,99.4L1280.4,101.7L1280.7,102.3L1280.2,107.7L1278.3,114.5L1275.9,120.3L1270.1,131.9L1264.8,139.9L1261.1,140.0L1259.4,145.8L1260.4,151.6L1264.3,163.2L1263.3,169.0L1263.9,174.8L1266.2,186.4L1268.5,190.7L1272.0,195.1L1276.9,198.0L1281.7,199.0L1290.4,195.1L1301.0,189.3L1306.8,187.4L1310.7,184.1L1316.5,181.6L1325.2,178.8L1326.6,181.2L1330.1,184.1L1335.9,183.1L1341.6,184.7L1340.7,187.0L1335.9,188.0L1331.0,189.9L1325.0,193.5L1324.8,195.3L1320.4,196.1L1314.6,198.0L1303.0,200.3L1298.1,202.3L1293.7,206.1L1291.0,210.0L1289.4,214.4L1293.3,224.1L1298.1,226.7L1301.0,231.9L1302.6,238.7L1301.0,244.4L1298.1,247.2L1294.3,245.4L1291.0,241.5L1287.5,238.6L1283.6,237.7L1279.8,240.6L1276.9,245.4L1274.9,251.2L1274.3,258.0L1274.9,265.7L1276.7,280.0L1278.3,283.5L1280.6,286.1L1277.9,288.3L1274.0,289.3L1271.1,291.6L1269.2,295.1L1266.2,297.0L1261.4,298.0L1245.0,295.2L1244.8,297.4L1236.5,299.0L1213.3,307.6L1209.4,307.1L1205.8,305.8L1206.5,302.8L1203.6,300.9L1197.8,304.4L1186.2,310.2L1182.5,311.4L1181.4,308.6L1183.3,305.7L1181.4,302.8L1177.5,301.8L1169.8,298.0L1166.9,295.1L1168.3,290.4L1170.8,294.1L1174.6,295.1L1178.5,293.2L1179.4,288.3L1177.5,284.4L1173.6,283.5L1171.2,284.7L1170.8,284.5L1171.7,282.5L1172.7,277.7L1174.6,273.9L1178.5,271.9L1179.4,268.0L1175.6,263.2L1173.7,258.4L1174.6,253.5L1173.6,248.7L1168.8,251.6L1164.0,255.4L1159.1,258.3L1155.7,262.2L1154.3,267.0L1155.7,276.7L1154.9,281.5L1156.8,291.2L1155.7,296.0L1157.2,300.9L1161.1,309.6L1160.1,313.5L1158.2,317.3L1154.3,319.3L1149.5,320.2L1143.7,321.2L1132.1,321.2L1126.3,322.2L1121.4,324.1L1118.5,328.0L1117.6,332.8L1118.5,337.6L1115.6,341.5L1104.4,349.7L1104.3,350.6L1094.6,358.7L1088.8,362.6L1083.9,366.4L1081.0,369.3L1079.1,373.2L1075.2,376.1L1064.6,379.0L1059.8,379.0L1054.0,378.1L1050.1,375.1L1046.2,371.3L1041.4,370.3L1037.5,372.2L1036.5,377.1L1038.5,381.9L1039.4,386.7L1037.4,390.6L1028.8,393.5L1023.0,392.5L1017.2,389.6L1011.4,388.7L1005.6,390.6L1004.6,394.5L1006.5,398.3L1005.6,401.2L1009.5,403.2L1013.5,406.2L1020.9,413.6L1024.9,419.6L1036.9,435.5L1037.5,437.0L1036.6,441.8L1035.0,446.7L1034.2,452.5L1035.0,457.9L1033.8,465.8L1032.2,473.5L1031.1,477.0L1029.8,479.1L1024.9,479.2L1003.7,475.7L994.0,474.7L968.9,470.3L964.4,469.9L964.4,471.3L964.0,471.6L954.3,467.7L948.5,466.1L943.7,467.7L938.8,466.7L934.0,468.1L931.1,470.6L930.1,474.4L932.1,479.3L930.0,490.0L928.6,499.8L926.3,508.3L920.5,520.8L910.8,536.3ZM1475.6,407.0L1474.5,409.9L1470.7,409.0L1463.0,401.3L1460.6,398.2L1470.7,387.7L1480.4,381.9L1484.2,379.0L1487.2,375.1L1491.0,372.2L1495.9,369.3L1498.8,365.5L1501.8,362.7L1503.5,364.7L1497.8,374.1L1493.9,376.1L1496.8,379.1L1497.8,383.8L1495.9,388.7L1497.7,393.6L1494.9,398.4L1491.0,401.2L1486.2,402.2L1485.2,405.1ZM1123.6,327.6L1124.0,327.9L1124.3,331.9L1122.8,335.6L1120.7,335.3L1120.1,328.5ZM1383.7,542.2L1384.3,545.1L1387.0,547.0L1392.0,546.1L1392.5,545.6L1394.3,548.0L1398.1,550.8L1397.2,554.8L1401.1,556.7L1404.0,559.6L1405.9,563.5L1411.7,569.2L1410.8,573.1L1413.7,576.0L1423.3,580.9L1429.2,579.9L1434.9,581.9L1440.7,580.9L1448.5,578.0L1452.4,576.0L1455.2,572.2L1456.2,567.4L1459.2,564.4L1465.9,563.5L1471.7,564.4L1483.3,568.3L1489.1,567.3L1494.9,564.5L1500.7,560.6L1506.5,557.7L1510.4,553.8L1513.4,550.0L1515.6,548.4L1515.6,468.2L1510.4,467.0L1504.6,468.0L1498.8,467.0L1493.0,468.3L1486.2,466.0L1479.4,468.0L1471.7,470.9L1463.9,474.7L1456.2,479.6L1450.4,485.4L1448.1,490.0L1449.4,490.0L1449.6,490.5L1448.1,492.9L1444.6,495.8L1439.8,497.7L1434.0,498.1L1429.1,499.3L1424.3,501.2L1422.4,503.9L1423.3,507.4L1418.5,510.3L1413.7,512.8L1392.4,519.0L1388.5,520.9L1385.6,523.8L1386.6,527.7L1384.7,531.6L1385.6,536.4L1389.5,539.3L1393.2,540.9L1392.2,542.6L1388.5,540.7ZM1488.9,589.0L1489.7,590.4L1491.6,591.7L1495.1,593.3L1498.5,592.5L1501.3,593.3L1504.2,590.4L1507.5,588.4L1509.6,585.5L1508.4,582.8L1513.1,580.1L1512.3,573.0L1502.6,580.1L1495.1,582.8ZM1421.0,589.6L1422.4,592.5L1424.9,589.6L1426.4,585.7L1424.9,583.2L1422.0,584.8ZM1413.7,595.4L1414.4,602.5L1414.4,602.5L1416.0,601.2L1415.2,596.0ZM1408.8,575.1L1411.7,578.0L1411.7,578.0L1412.7,576.0ZM1364.9,611.4L1365.3,614.1L1368.8,615.7L1374.6,616.1L1386.6,615.7L1394.9,614.7L1400.7,613.4L1404.6,610.9L1403.6,608.3L1390.5,610.9L1374.4,609.0L1369.8,609.5ZM1398.2,585.7L1401.7,587.1L1401.7,587.1L1401.1,585.1ZM1393.0,556.7L1393.6,559.2L1397.4,559.6L1397.8,557.3ZM1393.4,569.3L1395.9,571.6L1395.9,571.6L1396.3,569.7ZM1390.1,584.4L1393.0,585.1L1393.9,582.8L1390.5,581.9ZM1387.0,554.8L1387.2,558.6L1389.1,561.2L1391.0,558.6L1390.1,554.2ZM1382.7,579.9L1383.5,583.2L1387.8,582.8L1387.0,579.3ZM1383.3,576.0L1380.4,575.1L1382.0,578.0ZM1372.7,568.3L1373.6,570.8L1376.9,573.1L1379.8,572.8L1377.9,570.2ZM1373.6,523.8L1374.2,526.4L1376.9,525.8L1376.5,523.5ZM1372.7,588.6L1374.6,590.9L1374.6,590.9L1375.6,589.0ZM1369.8,533.5L1371.7,537.4L1375.0,536.0L1373.6,532.9ZM1366.9,552.3L1368.8,555.7L1368.8,555.7L1369.8,553.4ZM1353.0,602.1L1354.5,602.5L1354.9,600.2L1353.0,599.8ZM1318.5,579.3L1319.3,582.0L1321.6,581.3L1320.9,579.0ZM1312.7,572.2L1313.7,575.1L1316.6,576.6L1318.1,574.1L1315.6,571.2ZM1274.9,221.2L1276.9,227.0L1281.7,228.0L1286.5,226.0L1288.5,222.2L1285.6,219.3L1279.8,218.3ZM1281.3,214.4L1282.1,217.0L1285.2,217.3L1287.1,215.0L1284.6,213.1ZM1247.3,256.0L1248.8,254.1L1254.2,237.7L1251.7,236.7L1247.8,238.6L1246.9,244.4L1246.5,250.2ZM1205.3,586.7L1205.9,590.6L1209.2,593.5L1230.4,603.1L1235.3,606.0L1240.1,608.0L1243.0,606.0L1243.0,600.2L1242.1,594.4L1244.0,589.6L1246.9,584.8L1247.8,580.9L1244.0,581.9L1233.3,585.7L1227.6,586.7L1221.7,585.7L1215.9,583.8L1210.1,584.8ZM1231.4,619.6L1233.3,623.0L1235.7,623.4L1234.3,621.1ZM1216.2,288.9L1216.8,292.2L1219.1,293.1L1221.0,291.6L1219.1,289.7ZM1201.4,61.5L1204.3,59.9L1208.2,56.1L1211.1,51.2L1209.2,49.3L1205.3,53.2L1201.4,56.1ZM1180.0,285.4L1180.4,289.3L1182.3,294.1L1186.2,296.0L1190.1,295.1L1193.0,292.2L1194.9,287.4L1195.9,282.5L1195.4,280.0L1185.2,280.0L1181.4,281.5ZM1181.4,298.0L1182.3,300.5L1186.2,301.3L1191.0,301.9L1193.9,299.9L1191.0,298.0L1186.2,297.0ZM926.1,630.0L1044.1,630.0L1044.4,630.6L1185.6,630.6L1185.6,626.8L1182.7,624.4L1180.4,619.6L1180.0,614.8L1182.3,610.9L1185.6,609.2L1185.6,604.3L1179.4,607.0L1175.6,607.5L1174.2,604.1L1171.7,601.2L1166.8,600.6L1149.4,606.0L1143.6,607.0L1133.0,605.1L1128.1,606.0L1123.3,605.1L1119.4,603.1L1115.6,604.1L1110.7,606.0L1105.0,607.0L1101.1,606.0L1097.2,604.1L1085.6,603.1L1074.0,604.5L1068.2,604.1L1056.6,606.0L1050.8,605.6L1044.4,606.0L1044.4,613.6L1040.4,615.7L1028.8,617.6L1023.0,616.7L1017.1,618.6L1011.3,621.5L1005.5,623.4L999.7,622.5L993.9,620.5L988.1,617.6L964.9,613.7L960.1,610.9L956.3,607.0L953.4,603.1L952.4,600.2L948.5,600.6L945.6,602.2L940.8,610.9L929.2,625.4ZM1147.1,544.1L1149.4,547.1L1150.4,551.9L1149.4,557.7L1150.4,562.5L1148.5,567.3L1151.4,570.2L1155.2,572.8L1159.1,571.2L1163.0,568.3L1164.9,563.5L1167.8,546.1L1167.2,540.3L1164.9,535.4L1161.0,534.1L1156.2,536.4L1151.4,539.3L1147.5,540.7ZM1153.7,516.1L1154.8,521.9L1157.2,526.7L1160.1,529.6L1162.0,526.7L1164.5,517.1L1164.9,511.3L1163.9,506.4L1162.0,503.5L1158.1,505.5L1154.3,511.3ZM1088.5,549.9L1089.1,552.3L1092.4,553.4L1095.7,551.5L1093.3,549.0ZM1000.8,360.6L1001.7,362.6L1005.6,363.9L1011.4,361.6L1018.1,360.1L1023.0,361.6L1028.8,358.7L1036.5,358.1L1048.1,360.6L1051.2,358.7L1061.7,362.0L1067.5,363.1L1073.3,363.1L1077.5,361.2L1080.1,357.7L1081.4,353.9L1081.9,349.4L1080.5,349.3L1079.5,345.7L1081.0,341.9L1084.1,337.6L1086.0,332.8L1084.9,328.0L1081.0,324.1L1078.1,318.3L1076.8,312.5L1074.8,306.7L1069.0,295.1L1061.7,283.5L1058.2,272.3L1056.3,268.0L1054.9,262.6L1055.9,257.4L1059.4,252.9L1062.3,248.3L1063.2,243.3L1061.3,240.0L1056.9,238.0L1053.0,235.1L1051.7,230.3L1054.3,225.5L1054.9,220.6L1042.3,218.1L1032.7,218.7L1025.0,220.6L1017.2,224.5L1011.4,228.4L1007.5,233.2L1009.5,239.0L1017.1,246.7L1015.7,251.0L1019.1,256.4L1017.6,262.6L1021.1,266.1L1024.0,269.9L1027.8,268.1L1030.3,271.8L1027.3,276.7L1026.5,281.9L1030.7,284.4L1036.7,283.6L1038.5,285.8L1039.5,291.2L1041.4,297.0L1043.3,300.9L1042.3,305.1L1039.4,309.0L1035.6,310.9L1030.7,309.6L1025.9,309.0L1023.0,311.5L1021.1,315.4L1023.0,318.3L1026.9,320.2L1030.8,323.2L1031.7,328.0L1029.8,333.8L1026.9,339.5L1023.0,343.4L1018.2,346.3L1016.4,349.3L1015.0,349.4L1013.3,352.0L1003.7,357.7ZM1069.2,555.7L1072.1,559.6L1075.9,561.9L1079.8,560.6L1080.8,557.7L1077.9,554.8L1073.0,553.8ZM1071.8,197.2L1074.7,203.0L1079.0,200.1L1076.1,195.8ZM1057.3,7.3L1061.6,8.1L1063.1,5.8L1063.1,5.8ZM1055.8,210.6L1060.2,210.6L1060.2,206.5L1055.8,207.4ZM1054.9,212.9L1056.9,215.8L1059.8,214.3L1057.8,211.9ZM1052.3,564.4L1052.7,566.4L1053.7,568.3L1055.6,567.0L1057.6,564.4L1055.6,563.1ZM1032.6,161.0L1032.9,165.3L1034.4,166.8L1034.9,161.9ZM1026.5,292.2L1026.9,295.1L1029.2,294.1L1028.8,291.2ZM963.0,326.0L965.9,328.3L970.8,328.0L981.4,326.0L993.0,327.2L997.8,326.0L1002.1,323.7L1005.2,319.3L1007.1,314.4L1008.5,308.6L1013.7,291.2L1014.3,284.5L1011.4,279.6L1009.0,274.8L1006.5,270.9L1002.6,269.6L997.8,270.3L993.0,272.8L989.1,276.7L990.0,280.6L986.2,284.4L981.4,287.3L971.7,291.2L970.4,295.1L976.1,303.7L973.6,307.7L976.4,311.5L972.7,314.4L969.8,317.3L968.4,321.2L965.3,323.1ZM926.8,68.2L938.3,74.1L935.4,82.6L928.2,84.7L929.7,87.0L938.2,88.5L936.9,94.3L947.1,101.5L952.9,105.0L960.1,105.0L967.4,103.0L983.3,100.1L992.0,97.2L999.3,92.8L1001.6,87.0L995.0,74.0L997.8,69.6L992.0,68.1L989.1,63.8L981.9,68.1L974.6,65.3L967.4,68.1L963.0,65.2L960.1,59.5L955.8,66.6L948.9,63.9L948.8,63.5L952.9,59.5L951.4,52.2L948.5,46.4L942.7,47.9L935.5,50.8L929.7,55.1L934.0,58.0L939.8,59.5L944.0,62.3L941.3,68.0L928.2,66.1Z" fill="#f0efa0"/>
<g clip-path="url(#landclip)">
<g filter="url(#bl_green)" opacity="0.36" fill="none" stroke="#d2dd87" stroke-linecap="round" stroke-linejoin="round">
<polyline points="1124.3,333.8 1163.0,326.0 1201.7,318.3 1245.0,310.6" stroke-width="48.3"/>
<polyline points="1163.0,268.0 1172.7,297.0" stroke-width="29.0"/>
<polyline points="1245.0,326.0 1293.3,318.3 1341.7,326.0 1385.0,318.3" stroke-width="53.2"/>
<polyline points="1293.3,258.3 1341.7,248.7 1380.4,239.0" stroke-width="38.7"/>
<polyline points="1433.0,239.0 1471.7,268.0 1491.0,306.7 1510.4,335.7" stroke-width="43.5"/>
<polyline points="1332.0,166.7 1361.0,186.0 1385.0,178.3" stroke-width="53.2"/>
<polyline points="1274.0,178.3 1308.8,193.8" stroke-width="14.5"/>
<polyline points="1392.7,63.8 1421.7,81.2 1450.7,96.7" stroke-width="38.7"/>
<polyline points="1425.6,11.6 1444.9,38.7" stroke-width="29.0"/>
<polyline points="1105.0,361.6 1143.7,357.7 1182.3,361.6 1221.0,353.9" stroke-width="26.6"/>
<polyline points="1149.5,467.0 1172.7,464.1 1195.9,462.2" stroke-width="12.1"/>
<polyline points="1277.9,413.8 1293.3,427.3 1303.0,440.9" stroke-width="36.3"/>
<polyline points="1332.0,466.0 1361.0,468.0 1385.0,458.3" stroke-width="21.8"/>
<polyline points="1370.7,398.3 1385.0,427.3" stroke-width="29.0"/>
<polyline points="1386.6,369.3 1423.3,388.7 1452.3,398.3" stroke-width="36.3"/>
<polyline points="1382.7,440.9 1390.5,458.3" stroke-width="19.3"/>
<polyline points="1471.7,373.2 1510.4,388.7 1515.0,404.1" stroke-width="29.0"/>
<polyline points="1448.5,411.9 1462.0,413.8" stroke-width="9.7"/>
<polyline points="1023.0,404.1 1052.0,408.0 1073.3,388.7 1090.7,373.2" stroke-width="36.3"/>
<polyline points="1042.3,442.8 1046.2,469.9" stroke-width="21.8"/>
<polyline points="1013.3,355.8 1073.3,357.7" stroke-width="9.7"/>
<polyline points="1065.6,302.8 1073.3,329.9 1052.0,345.4" stroke-width="21.8"/>
<polyline points="988.2,297.0 999.8,318.3" stroke-width="24.2"/>
<polyline points="916.6,538.3 918.5,567.3" stroke-width="14.5"/>
<polyline points="945.6,580.9 955.3,588.6" stroke-width="14.5"/>
<polyline points="1036.5,429.0 1038.4,463.8" stroke-width="14.5"/>
<polyline points="1372.7,501.6 1392.0,507.4 1405.6,501.6" stroke-width="19.3"/>
<polyline points="1380.8,501.6 1404.0,507.4" stroke-width="19.3"/>
<polyline points="1392.4,528.7 1400.1,553.8 1413.7,573.1" stroke-width="12.1"/>
<polyline points="1296.2,519.0 1298.1,538.3" stroke-width="7.3"/>
<polyline points="1103.0,495.8 1126.2,495.8" stroke-width="7.3"/>
<polyline points="1262.3,90.9 1285.6,87.0 1310.7,108.3" stroke-width="21.8"/>
<polyline points="1221.0,193.8 1228.8,209.2" stroke-width="16.9"/>
<polyline points="1394.3,229.3 1452.3,225.5 1500.7,239.0" stroke-width="72.5"/>
<polyline points="1471.7,287.3 1506.5,326.0" stroke-width="60.4"/>
<polyline points="1443.0,29.0 1530.0,87.0 1573.5,174.0" stroke-width="145.0"/>
<polyline points="1394.3,359.7 1452.3,369.3 1500.7,365.5" stroke-width="48.3"/>
<polyline points="1303.0,229.3 1361.0,268.0" stroke-width="60.4"/>
</g>
<rect x="905" y="0" width="610" height="630" filter="url(#tex)" opacity="0.42"/>
<g filter="url(#bl_orange)" opacity="0.8" fill="none" stroke="#f6d688" stroke-linecap="round" stroke-linejoin="round">
<polyline points="957.2,505.5 992.0,501.6 1028.8,513.2" stroke-width="30.9"/>
<polyline points="951.4,538.3 982.3,548.0 1021.0,544.1" stroke-width="30.9"/>
<polyline points="968.8,575.1 1001.7,571.2 1021.0,563.5" stroke-width="18.6"/>
<polyline points="951.4,613.8 982.3,623.4 1021.0,627.3 1045.0,623.4" stroke-width="10.8"/>
<polyline points="953.3,490.9 992.0,496.7 1030.7,500.6" stroke-width="18.6"/>
<polyline points="1045.0,501.6 1066.3,511.3" stroke-width="17.0"/>
<polyline points="1045.0,617.6 1083.7,615.7 1122.3,617.6 1161.0,615.7" stroke-width="15.5"/>
<polyline points="1158.1,515.1 1159.5,522.9" stroke-width="4.6"/>
<polyline points="1159.1,546.1 1159.1,563.5" stroke-width="7.7"/>
<polyline points="1088.8,440.9 1100.4,462.2" stroke-width="18.6"/>
<polyline points="984.3,483.4 1028.8,487.3" stroke-width="6.2"/>
<polyline points="1116.6,433.1 1143.7,440.9 1172.7,437.0 1211.4,431.2 1245.0,435.1" stroke-width="26.3"/>
<polyline points="1213.3,398.3 1245.0,404.1" stroke-width="13.9"/>
<polyline points="1143.7,406.1 1153.3,388.7" stroke-width="10.8"/>
<polyline points="1168.8,473.8 1192.0,485.4" stroke-width="7.7"/>
<polyline points="1228.8,466.0 1245.0,485.4" stroke-width="13.9"/>
<polyline points="1196.6,497.7 1223.7,520.9 1246.9,540.3 1256.5,563.5 1253.6,577.0" stroke-width="12.4"/>
<polyline points="1266.2,538.3 1277.8,544.1" stroke-width="6.2"/>
<polyline points="1214.0,590.6 1239.1,594.4" stroke-width="12.4"/>
<polyline points="1266.2,493.9 1301.0,507.4 1316.5,528.7 1320.4,551.9" stroke-width="23.2"/>
<polyline points="1305.0,501.6 1334.0,497.7 1363.0,495.8" stroke-width="21.7"/>
<polyline points="1310.8,528.7 1328.2,553.8 1343.7,559.6" stroke-width="21.7"/>
<polyline points="1334.0,579.0 1347.5,590.6" stroke-width="10.8"/>
<polyline points="1368.8,612.8 1401.7,611.4" stroke-width="3.9"/>
<polyline points="1423.3,528.7 1442.7,548.0 1433.0,567.3" stroke-width="30.9"/>
<polyline points="1462.0,509.3 1491.0,528.7 1515.0,519.0" stroke-width="43.3"/>
<polyline points="1494.9,587.7 1506.5,584.8" stroke-width="4.6"/>
<polyline points="1281.7,386.7 1308.8,388.7 1332.0,396.4 1353.3,413.8 1364.9,431.2 1353.3,440.9 1332.0,445.7 1318.5,450.6" stroke-width="10.8"/>
<circle cx="1322.3" cy="427.3" r="7.0" fill="#f6d688" stroke="none"/>
<polyline points="1245.0,466.0 1274.0,475.7 1303.0,490.0" stroke-width="23.2"/>
<polyline points="1245.0,384.8 1268.2,394.5" stroke-width="13.9"/>
<polyline points="1326.2,485.4 1370.7,483.4" stroke-width="9.3"/>
<polyline points="1378.9,408.0 1392.4,431.2" stroke-width="17.0"/>
<polyline points="1458.1,425.4 1465.9,421.5" stroke-width="3.9"/>
<polyline points="1462.0,481.5 1491.0,475.7 1515.0,473.8" stroke-width="13.9"/>
<polyline points="1141.7,193.8 1159.1,174.4 1182.3,157.0 1197.8,131.9 1209.4,104.8 1223.0,77.7" stroke-width="20.1"/>
<polyline points="1192.7,123.8 1206.3,92.8 1221.7,69.6 1235.3,52.2 1252.7,32.9 1277.8,19.3" stroke-width="17.0"/>
<polyline points="1139.8,210.0 1151.4,225.5" stroke-width="17.0"/>
<polyline points="1038.5,231.3 1052.0,244.8" stroke-width="10.8"/>
<polyline points="1050.1,268.0 1061.7,291.2" stroke-width="6.2"/>
<polyline points="1028.8,326.0 1032.7,341.5" stroke-width="6.2"/>
<polyline points="951.4,78.3 971.7,87.0 989.1,84.1" stroke-width="18.6"/>
</g>
<g filter="url(#bl_dorange)" opacity="0.75" fill="none" stroke="#efc27c" stroke-linecap="round" stroke-linejoin="round">
<polyline points="1433.0,524.8 1462.0,519.0 1491.0,513.2 1515.0,509.3" stroke-width="23.2"/>
<polyline points="1423.3,548.0 1452.3,553.8 1481.4,555.7 1510.4,544.1" stroke-width="21.3"/>
<polyline points="1404.0,538.3 1413.7,557.7" stroke-width="9.7"/>
<polyline points="1305.0,505.5 1312.7,538.3 1324.3,557.7" stroke-width="13.5"/>
<polyline points="1320.5,495.8 1363.0,497.7" stroke-width="11.6"/>
<polyline points="1335.9,577.0 1346.6,590.6" stroke-width="7.7"/>
<polyline points="1268.1,495.8 1301.0,511.3 1312.6,538.3" stroke-width="17.4"/>
<polyline points="1208.2,505.5 1243.0,538.3 1256.5,567.3" stroke-width="7.7"/>
<polyline points="1245.0,469.9 1275.9,483.4 1295.3,490.0" stroke-width="19.3"/>
<polyline points="1283.7,387.1 1322.3,391.6 1347.5,408.0 1364.9,431.2 1345.6,441.9 1322.3,449.6" stroke-width="8.7"/>
<polyline points="1116.6,431.2 1143.7,442.8 1172.7,437.0 1211.4,429.3 1245.0,431.2" stroke-width="21.3"/>
<polyline points="963.0,511.3 992.0,509.3 1024.9,528.7" stroke-width="15.5"/>
<polyline points="978.5,548.0 1005.6,551.9" stroke-width="13.5"/>
<polyline points="978.5,582.8 1005.6,567.3" stroke-width="11.6"/>
<polyline points="953.3,615.7 992.0,625.4 1040.4,627.3" stroke-width="9.7"/>
<polyline points="963.0,487.0 1001.7,492.8" stroke-width="11.6"/>
<polyline points="1045.0,499.7 1064.3,507.4" stroke-width="11.6"/>
<polyline points="1045.0,621.5 1103.0,619.6 1161.0,619.6" stroke-width="11.6"/>
<polyline points="1143.7,188.0 1163.0,170.6 1182.3,160.9" stroke-width="13.5"/>
<polyline points="1195.9,128.0 1209.4,100.9 1223.0,77.7" stroke-width="9.7"/>
<polyline points="1200.5,108.3 1221.7,77.3 1233.3,58.0" stroke-width="9.7"/>
<polyline points="1141.7,210.0 1151.4,223.5" stroke-width="11.6"/>
<polyline points="954.3,81.2 980.4,89.9" stroke-width="14.5"/>
<polyline points="1094.6,444.8 1102.3,460.2" stroke-width="9.7"/>
<polyline points="1462.0,483.4 1515.0,479.6" stroke-width="11.6"/>
</g>
<g filter="url(#bl_green2)" opacity="0.85" fill="none" stroke="#cfdc88" stroke-linecap="round" stroke-linejoin="round">
<polyline points="1153.3,468.0 1174.6,463.1 1197.8,460.2" stroke-width="8.7"/>
<polyline points="1283.7,413.8 1295.3,427.3 1303.0,439.0" stroke-width="17.4"/>
<polyline points="1335.9,468.0 1361.0,468.9 1385.0,462.2" stroke-width="11.6"/>
<polyline points="1372.7,503.5 1392.0,508.4 1407.5,503.5" stroke-width="11.6"/>
<polyline points="946.6,580.9 956.2,587.7" stroke-width="8.7"/>
<polyline points="915.6,534.5 916.6,567.3" stroke-width="7.7"/>
</g>
<g filter="url(#bl_brown)" opacity="0.72" fill="none" stroke="#c99c8e" stroke-linecap="round" stroke-linejoin="round">
<polyline points="963.0,526.7 982.3,524.4 1001.7,519.0" stroke-width="4.3"/>
<polyline points="1011.4,526.7 1017.2,536.4 1028.8,538.3" stroke-width="6.8"/>
<polyline points="982.3,586.7 992.0,580.9 1001.7,571.2 1005.6,565.4" stroke-width="5.4"/>
<polyline points="953.3,613.8 972.7,623.4" stroke-width="5.4"/>
<polyline points="1034.6,493.9 1045.0,499.7" stroke-width="4.8"/>
<polyline points="970.7,481.2 992.0,485.1" stroke-width="4.8"/>
<polyline points="963.0,526.7 982.3,523.8 1001.7,519.9" stroke-width="4.3"/>
<polyline points="1013.3,531.5 1024.9,540.0" stroke-width="6.8"/>
<polyline points="1032.6,494.8 1045.0,500.6" stroke-width="4.8"/>
<polyline points="1045.0,497.7 1062.4,505.5" stroke-width="6.8"/>
<polyline points="1083.7,609.9 1112.7,623.4" stroke-width="3.9"/>
<polyline points="1052.7,618.6 1074.0,616.7" stroke-width="3.5"/>
<polyline points="1122.3,613.8 1161.0,618.6" stroke-width="3.5"/>
<polyline points="1158.7,513.2 1159.5,520.9" stroke-width="2.7"/>
<circle cx="1161.0" cy="553.8" r="1.7" fill="#c99c8e" stroke="none"/>
<polyline points="1096.5,446.7 1103.3,458.3" stroke-width="5.8"/>
<polyline points="976.6,481.5 1013.3,485.4" stroke-width="4.3"/>
<polyline points="1116.6,427.3 1134.0,458.3 1163.0,440.9 1192.0,431.2 1221.0,425.4 1245.0,425.4" stroke-width="9.7"/>
<polyline points="1168.8,450.6 1192.0,444.8 1213.3,440.9 1240.4,442.8" stroke-width="6.8"/>
<polyline points="1228.8,366.4 1240.4,369.3" stroke-width="2.3"/>
<polyline points="1230.7,469.9 1245.0,487.3" stroke-width="6.8"/>
<polyline points="1210.1,507.4 1223.7,520.9 1243.0,538.3" stroke-width="4.8"/>
<polyline points="1252.7,551.9 1258.5,563.5 1252.7,580.9" stroke-width="4.8"/>
<circle cx="1240.1" cy="589.6" r="1.5" fill="#c99c8e" stroke="none"/>
<polyline points="1272.0,495.8 1301.0,509.3 1310.7,515.1" stroke-width="9.7"/>
<polyline points="1303.0,519.0 1308.8,538.3" stroke-width="6.8"/>
<polyline points="1305.0,509.3 1310.8,538.3 1320.5,553.8" stroke-width="6.8"/>
<polyline points="1324.3,493.9 1359.1,497.7" stroke-width="6.8"/>
<polyline points="1337.9,579.0 1345.6,588.6" stroke-width="4.3"/>
<circle cx="1386.2" cy="612.8" r="1.2" fill="#c99c8e" stroke="none"/>
<polyline points="1423.3,520.9 1452.3,517.1 1471.7,509.3" stroke-width="4.8"/>
<polyline points="1419.5,540.3 1438.8,546.1" stroke-width="5.8"/>
<polyline points="1460.1,553.8 1475.6,559.6 1491.0,563.5 1506.5,548.0 1514.2,538.3" stroke-width="8.7"/>
<polyline points="1483.3,501.6 1515.0,509.3" stroke-width="9.7"/>
<polyline points="1433.0,563.5 1452.3,569.3" stroke-width="5.8"/>
<polyline points="1283.7,387.1 1303.0,388.7 1322.3,391.6 1335.9,398.3 1347.5,408.0 1357.2,419.6 1364.9,431.2 1361.0,437.0 1345.6,441.9 1332.0,445.7 1322.3,449.6" stroke-width="5.8"/>
<circle cx="1322.3" cy="427.3" r="3.9" fill="#c99c8e" stroke="none"/>
<polyline points="1264.3,393.5 1283.7,388.7" stroke-width="3.1"/>
<polyline points="1245.0,469.9 1274.0,481.5 1293.3,490.0" stroke-width="11.6"/>
<polyline points="1332.0,486.3 1361.0,484.4" stroke-width="3.9"/>
<polyline points="1460.1,425.4 1464.0,422.5" stroke-width="1.9"/>
<polyline points="1471.7,483.4 1515.0,479.6" stroke-width="7.7"/>
<polyline points="1147.5,182.2 1164.9,168.6" stroke-width="8.7"/>
<polyline points="1168.8,174.4 1182.3,170.6" stroke-width="4.8"/>
<polyline points="1197.8,120.3 1205.6,108.7" stroke-width="1.5"/>
<polyline points="1218.1,81.6 1223.9,75.8" stroke-width="2.3"/>
<polyline points="1221.7,79.3 1226.6,67.7" stroke-width="1.9"/>
<polyline points="1146.6,215.8 1151.4,223.5" stroke-width="5.8"/>
<circle cx="971.7" cy="92.8" r="4.6" fill="#c99c8e" stroke="none"/>
<circle cx="951.4" cy="81.8" r="2.0" fill="#c99c8e" stroke="none"/>
<circle cx="961.6" cy="83.5" r="1.5" fill="#c99c8e" stroke="none"/>
</g>
<g filter="url(#bl_white)" opacity="0.85" fill="none" stroke="#f3e2e0" stroke-linecap="round" stroke-linejoin="round">
<polyline points="1161.1,437.0 1174.6,431.2 1192.0,427.3 1213.3,424.4 1238.4,422.5" stroke-width="5.4"/>
<polyline points="1128.2,457.3 1135.9,458.3" stroke-width="4.3"/>
<polyline points="1168.8,446.7 1186.2,444.8" stroke-width="3.1"/>
<polyline points="1045.0,497.3 1060.5,504.5" stroke-width="2.7"/>
<polyline points="980.5,481.9 990.1,483.4" stroke-width="1.9"/>
<polyline points="986.2,586.3 990.1,586.7" stroke-width="1.5"/>
<polyline points="1496.8,531.6 1502.6,530.6" stroke-width="1.9"/>
<polyline points="1504.6,544.1 1510.4,540.3" stroke-width="3.1"/>
<polyline points="1473.6,557.7 1479.4,560.6" stroke-width="1.9"/>
<circle cx="1511.3" cy="519.0" r="1.0" fill="#f3e2e0" stroke="none"/>
<polyline points="1344.6,411.9 1349.4,415.7" stroke-width="1.5"/>
<polyline points="1351.4,440.9 1357.2,439.9" stroke-width="1.5"/>
<polyline points="1221.0,427.3 1245.0,426.4" stroke-width="5.8"/>
<polyline points="1186.2,440.9 1213.3,438.0" stroke-width="2.7"/>
</g>
</g>
<g fill="#257a27" stroke="#000" stroke-width="0.75">
<circle cx="1204.3" cy="141.0" r="5.7"/>
<circle cx="1187.9" cy="162.8" r="5.7"/>
<circle cx="1198.9" cy="166.7" r="5.7"/>
<circle cx="1223.3" cy="173.5" r="5.7"/>
<circle cx="1211.5" cy="194.7" r="5.7"/>
<circle cx="1210.1" cy="209.6" r="5.7"/>
<circle cx="1273.6" cy="161.3" r="5.7"/>
<circle cx="1292.7" cy="161.7" r="5.7"/>
<circle cx="1299.9" cy="168.6" r="5.7"/>
<circle cx="1318.8" cy="167.7" r="5.7"/>
<circle cx="1268.7" cy="176.4" r="5.7"/>
<circle cx="1269.5" cy="175.8" r="5.7"/>
<circle cx="1291.4" cy="179.3" r="5.7"/>
<circle cx="1285.6" cy="182.5" r="5.7"/>
<circle cx="1289.4" cy="188.3" r="5.7"/>
<circle cx="1256.5" cy="196.7" r="5.7"/>
<circle cx="1269.1" cy="197.4" r="5.7"/>
<circle cx="1273.0" cy="195.1" r="5.7"/>
<circle cx="1274.9" cy="194.1" r="5.7"/>
<circle cx="1299.5" cy="202.8" r="5.7"/>
<circle cx="1295.2" cy="212.1" r="5.7"/>
<circle cx="1320.4" cy="205.7" r="5.7"/>
<circle cx="1322.3" cy="217.3" r="5.7"/>
<circle cx="1325.2" cy="221.2" r="5.7"/>
<circle cx="1279.9" cy="224.1" r="5.7"/>
<circle cx="1294.6" cy="223.7" r="5.7"/>
<circle cx="1189.3" cy="229.9" r="5.7"/>
<circle cx="1202.8" cy="230.5" r="5.7"/>
<circle cx="1192.3" cy="236.7" r="5.7"/>
<circle cx="1208.2" cy="235.7" r="5.7"/>
<circle cx="1214.0" cy="234.8" r="5.7"/>
<circle cx="1225.0" cy="239.2" r="5.7"/>
<circle cx="1190.8" cy="246.4" r="5.7"/>
<circle cx="1194.7" cy="246.0" r="5.7"/>
<circle cx="1200.5" cy="245.8" r="5.7"/>
<circle cx="1211.1" cy="245.4" r="5.7"/>
<circle cx="1211.5" cy="249.8" r="5.7"/>
<circle cx="1225.6" cy="254.1" r="5.7"/>
<circle cx="1228.5" cy="252.5" r="5.7"/>
<circle cx="1193.1" cy="256.8" r="5.7"/>
<circle cx="1135.9" cy="211.0" r="5.7"/>
<circle cx="1139.8" cy="212.9" r="5.7"/>
<circle cx="1130.7" cy="218.3" r="5.7"/>
<circle cx="1019.7" cy="222.0" r="5.7"/>
<circle cx="1037.5" cy="222.0" r="5.7"/>
<circle cx="1040.8" cy="220.1" r="5.7"/>
<circle cx="1034.6" cy="226.4" r="5.7"/>
<circle cx="1038.5" cy="229.3" r="5.7"/>
<circle cx="1042.3" cy="231.3" r="5.7"/>
<circle cx="1012.8" cy="235.1" r="5.7"/>
<circle cx="1023.0" cy="235.1" r="5.7"/>
<circle cx="1031.1" cy="234.8" r="5.7"/>
<circle cx="1021.1" cy="240.9" r="5.7"/>
<circle cx="1025.9" cy="240.0" r="5.7"/>
<circle cx="1034.6" cy="240.9" r="5.7"/>
<circle cx="1037.5" cy="243.8" r="5.7"/>
<circle cx="1043.3" cy="241.9" r="5.7"/>
<circle cx="1043.3" cy="245.8" r="5.7"/>
<circle cx="1026.9" cy="242.9" r="5.7"/>
<circle cx="1358.1" cy="211.0" r="5.7"/>
<circle cx="1194.3" cy="69.4" r="5.7"/>
<circle cx="1182.9" cy="122.8" r="5.7"/>
<circle cx="1160.5" cy="143.5" r="5.7"/>
<circle cx="1247.1" cy="134.8" r="5.7"/>
<circle cx="1171.5" cy="163.0" r="5.7"/>
<circle cx="1159.3" cy="182.5" r="5.7"/>
<circle cx="1145.0" cy="194.3" r="5.7"/>
<circle cx="1127.2" cy="196.7" r="5.7"/>
<circle cx="1314.2" cy="78.1" r="5.7"/>
<circle cx="1304.9" cy="83.9" r="5.7"/>
<circle cx="1306.9" cy="87.4" r="5.7"/>
<circle cx="1310.7" cy="92.2" r="5.7"/>
<circle cx="1342.3" cy="78.5" r="5.7"/>
<circle cx="1334.3" cy="93.6" r="5.7"/>
<circle cx="1331.0" cy="95.5" r="5.7"/>
<circle cx="1366.8" cy="104.8" r="5.7"/>
<circle cx="1278.8" cy="110.0" r="5.7"/>
<circle cx="1302.6" cy="110.8" r="5.7"/>
<circle cx="1322.3" cy="107.1" r="5.7"/>
<circle cx="1324.3" cy="106.4" r="5.7"/>
<circle cx="1339.8" cy="110.8" r="5.7"/>
<circle cx="1353.7" cy="129.0" r="5.7"/>
<circle cx="1361.6" cy="127.6" r="5.7"/>
<circle cx="1357.2" cy="137.3" r="5.7"/>
<circle cx="1350.4" cy="143.9" r="5.7"/>
<circle cx="1358.1" cy="145.8" r="5.7"/>
<circle cx="1369.7" cy="143.5" r="5.7"/>
<circle cx="1381.3" cy="150.8" r="5.7"/>
<circle cx="1276.9" cy="11.6" r="5.7"/>
<circle cx="1277.8" cy="17.4" r="5.7"/>
<circle cx="1284.6" cy="20.3" r="5.7"/>
<circle cx="1281.1" cy="24.8" r="5.7"/>
<circle cx="1310.1" cy="22.8" r="5.7"/>
<circle cx="1254.2" cy="32.7" r="5.7"/>
<circle cx="1232.4" cy="38.7" r="5.7"/>
<circle cx="1239.1" cy="46.8" r="5.7"/>
<circle cx="1248.8" cy="53.2" r="5.7"/>
<circle cx="1324.6" cy="48.3" r="5.7"/>
<circle cx="944.7" cy="88.5" r="5.7"/>
<circle cx="1033.8" cy="152.3" r="5.7"/>
<circle cx="1067.7" cy="196.1" r="5.7"/>
<circle cx="1076.7" cy="193.2" r="5.7"/>
</g>
<g fill="#ffa40a" stroke="#000" stroke-width="0.75">
<circle cx="1215.0" cy="259.9" r="5.7"/>
<circle cx="1211.1" cy="264.7" r="5.7"/>
<circle cx="1209.2" cy="271.5" r="5.7"/>
<circle cx="1216.9" cy="269.9" r="5.7"/>
<circle cx="1221.7" cy="271.9" r="5.7"/>
<circle cx="1226.6" cy="271.5" r="5.7"/>
<circle cx="1203.4" cy="277.3" r="5.7"/>
<circle cx="1314.6" cy="265.3" r="5.7"/>
<circle cx="1297.7" cy="272.1" r="5.7"/>
<circle cx="1278.8" cy="276.3" r="5.7"/>
<circle cx="1200.7" cy="282.5" r="5.7"/>
<circle cx="1205.9" cy="284.4" r="5.7"/>
<circle cx="1206.5" cy="285.0" r="5.7"/>
<circle cx="1240.9" cy="295.5" r="5.7"/>
<circle cx="1221.6" cy="309.0" r="5.7"/>
<circle cx="1217.2" cy="312.5" r="5.7"/>
<circle cx="1245.0" cy="311.5" r="5.7"/>
<circle cx="1188.9" cy="321.0" r="5.7"/>
<circle cx="1209.4" cy="323.1" r="5.7"/>
<circle cx="1212.7" cy="329.9" r="5.7"/>
<circle cx="1200.9" cy="340.5" r="5.7"/>
<circle cx="1217.2" cy="342.5" r="5.7"/>
<circle cx="1214.3" cy="345.0" r="5.7"/>
<circle cx="1245.0" cy="333.8" r="5.7"/>
<circle cx="1333.6" cy="248.3" r="5.7"/>
<circle cx="1340.5" cy="254.9" r="5.7"/>
<circle cx="1339.2" cy="262.6" r="5.7"/>
<circle cx="1345.0" cy="268.4" r="5.7"/>
<circle cx="1328.5" cy="276.7" r="5.7"/>
<circle cx="1333.0" cy="278.6" r="5.7"/>
<circle cx="1349.4" cy="285.4" r="5.7"/>
<circle cx="1349.0" cy="288.9" r="5.7"/>
<circle cx="1250.2" cy="294.5" r="5.7"/>
<circle cx="1296.8" cy="295.9" r="5.7"/>
<circle cx="1310.4" cy="296.4" r="5.7"/>
<circle cx="1334.9" cy="302.8" r="5.7"/>
<circle cx="1331.0" cy="306.7" r="5.7"/>
<circle cx="1338.4" cy="306.1" r="5.7"/>
<circle cx="1264.3" cy="303.2" r="5.7"/>
<circle cx="1255.6" cy="304.8" r="5.7"/>
<circle cx="1273.0" cy="308.6" r="5.7"/>
<circle cx="1284.6" cy="306.7" r="5.7"/>
<circle cx="1254.3" cy="312.9" r="5.7"/>
<circle cx="1258.5" cy="315.4" r="5.7"/>
<circle cx="1265.9" cy="316.9" r="5.7"/>
<circle cx="1280.2" cy="328.7" r="5.7"/>
<circle cx="1266.3" cy="330.3" r="5.7"/>
<circle cx="1255.6" cy="329.5" r="5.7"/>
<circle cx="1248.9" cy="328.0" r="5.7"/>
<circle cx="1316.4" cy="337.6" r="5.7"/>
<circle cx="1360.2" cy="337.0" r="5.7"/>
<circle cx="1435.5" cy="319.3" r="5.7"/>
<circle cx="1440.2" cy="326.6" r="5.7"/>
<circle cx="1429.7" cy="328.0" r="5.7"/>
<circle cx="1425.7" cy="331.8" r="5.7"/>
<circle cx="1467.2" cy="328.7" r="5.7"/>
<circle cx="1407.5" cy="350.0" r="5.7"/>
<circle cx="1190.1" cy="357.7" r="5.7"/>
<circle cx="1207.9" cy="355.8" r="5.7"/>
<circle cx="1209.0" cy="367.4" r="5.7"/>
<circle cx="1211.4" cy="366.4" r="5.7"/>
<circle cx="1193.6" cy="376.1" r="5.7"/>
<circle cx="1191.0" cy="380.0" r="5.7"/>
<circle cx="1193.0" cy="382.9" r="5.7"/>
<circle cx="1238.4" cy="376.1" r="5.7"/>
<circle cx="1218.1" cy="381.9" r="5.7"/>
<circle cx="1230.7" cy="383.8" r="5.7"/>
<circle cx="1237.5" cy="383.8" r="5.7"/>
<circle cx="1214.8" cy="391.0" r="5.7"/>
<circle cx="1225.9" cy="392.5" r="5.7"/>
<circle cx="1231.7" cy="391.6" r="5.7"/>
<circle cx="1224.9" cy="399.9" r="5.7"/>
<circle cx="1241.3" cy="396.4" r="5.7"/>
<circle cx="1240.4" cy="398.3" r="5.7"/>
<circle cx="1245.0" cy="375.1" r="5.7"/>
<circle cx="1202.7" cy="415.7" r="5.7"/>
<circle cx="1207.5" cy="414.8" r="5.7"/>
<circle cx="1208.5" cy="418.6" r="5.7"/>
<circle cx="1194.0" cy="419.6" r="5.7"/>
<circle cx="1286.2" cy="358.1" r="5.7"/>
<circle cx="1275.9" cy="367.4" r="5.7"/>
<circle cx="1249.3" cy="376.1" r="5.7"/>
<circle cx="1272.7" cy="382.9" r="5.7"/>
<circle cx="1278.8" cy="381.9" r="5.7"/>
<circle cx="1277.9" cy="390.6" r="5.7"/>
<circle cx="1263.0" cy="392.2" r="5.7"/>
<circle cx="1250.8" cy="394.5" r="5.7"/>
<circle cx="1249.8" cy="397.4" r="5.7"/>
<circle cx="1295.9" cy="375.1" r="5.7"/>
<circle cx="1292.4" cy="379.0" r="5.7"/>
<circle cx="1302.0" cy="380.9" r="5.7"/>
<circle cx="1296.2" cy="381.9" r="5.7"/>
<circle cx="1312.7" cy="383.8" r="5.7"/>
<circle cx="1327.2" cy="385.2" r="5.7"/>
<circle cx="1322.3" cy="359.7" r="5.7"/>
<circle cx="1328.1" cy="358.7" r="5.7"/>
<circle cx="1332.0" cy="360.6" r="5.7"/>
<circle cx="1321.4" cy="365.5" r="5.7"/>
<circle cx="1325.8" cy="369.3" r="5.7"/>
<circle cx="1342.7" cy="357.3" r="5.7"/>
<circle cx="1351.7" cy="355.4" r="5.7"/>
<circle cx="1339.2" cy="367.8" r="5.7"/>
<circle cx="1373.6" cy="377.5" r="5.7"/>
<circle cx="1288.5" cy="401.6" r="5.7"/>
<circle cx="1324.7" cy="404.7" r="5.7"/>
<circle cx="1254.3" cy="425.0" r="5.7"/>
<circle cx="1264.9" cy="427.7" r="5.7"/>
<circle cx="1258.5" cy="432.2" r="5.7"/>
<circle cx="1251.8" cy="434.1" r="5.7"/>
<circle cx="1287.9" cy="435.9" r="5.7"/>
<circle cx="1357.9" cy="428.7" r="5.7"/>
<circle cx="1340.9" cy="438.4" r="5.7"/>
<circle cx="1315.4" cy="452.5" r="5.7"/>
<circle cx="1432.0" cy="400.7" r="5.7"/>
</g>
<g fill="#000000" stroke="#000" stroke-width="0.75">
<circle cx="1135.9" cy="427.3" r="5.7"/>
<circle cx="1150.4" cy="429.3" r="5.7"/>
<circle cx="1161.1" cy="430.8" r="5.7"/>
<circle cx="1128.2" cy="433.1" r="5.7"/>
<circle cx="1121.4" cy="439.0" r="5.7"/>
<circle cx="1132.1" cy="439.9" r="5.7"/>
<circle cx="1139.8" cy="436.0" r="5.7"/>
<circle cx="1146.6" cy="437.0" r="5.7"/>
<circle cx="1153.3" cy="439.9" r="5.7"/>
<circle cx="1126.3" cy="446.7" r="5.7"/>
<circle cx="1135.9" cy="446.7" r="5.7"/>
<circle cx="1143.7" cy="445.7" r="5.7"/>
<circle cx="1151.4" cy="446.7" r="5.7"/>
<circle cx="1113.7" cy="452.5" r="5.7"/>
<circle cx="1122.4" cy="450.6" r="5.7"/>
<circle cx="1130.1" cy="452.5" r="5.7"/>
<circle cx="1139.8" cy="453.5" r="5.7"/>
<circle cx="1148.5" cy="452.5" r="5.7"/>
<circle cx="1158.2" cy="451.5" r="5.7"/>
<circle cx="1112.7" cy="458.3" r="5.7"/>
<circle cx="1118.5" cy="464.1" r="5.7"/>
<circle cx="1124.3" cy="457.3" r="5.7"/>
<circle cx="1152.4" cy="459.3" r="5.7"/>
<circle cx="1143.7" cy="457.3" r="5.7"/>
<circle cx="1114.7" cy="463.1" r="5.7"/>
<circle cx="1182.3" cy="426.4" r="5.7"/>
<circle cx="1192.0" cy="424.4" r="5.7"/>
<circle cx="1197.8" cy="426.4" r="5.7"/>
<circle cx="1201.7" cy="429.3" r="5.7"/>
<circle cx="1173.6" cy="435.1" r="5.7"/>
<circle cx="1180.4" cy="432.2" r="5.7"/>
<circle cx="1188.1" cy="433.1" r="5.7"/>
<circle cx="1195.9" cy="432.2" r="5.7"/>
<circle cx="1188.1" cy="439.0" r="5.7"/>
<circle cx="1178.5" cy="439.0" r="5.7"/>
<circle cx="1172.7" cy="445.7" r="5.7"/>
<circle cx="1176.5" cy="442.8" r="5.7"/>
</g>
<g fill="#2446a8" stroke="#000" stroke-width="0.75">
<circle cx="1157.6" cy="274.2" r="5.7"/>
<circle cx="1146.6" cy="318.3" r="5.7"/>
<circle cx="1157.8" cy="317.3" r="5.7"/>
<circle cx="1159.1" cy="321.2" r="5.7"/>
<circle cx="1114.7" cy="350.0" r="5.7"/>
<circle cx="1122.4" cy="350.0" r="5.7"/>
<circle cx="1129.2" cy="350.0" r="5.7"/>
<circle cx="1164.9" cy="349.2" r="5.7"/>
<circle cx="1171.7" cy="347.3" r="5.7"/>
<circle cx="1175.6" cy="350.0" r="5.7"/>
<circle cx="1025.5" cy="254.9" r="5.7"/>
<circle cx="1032.7" cy="261.6" r="5.7"/>
<circle cx="1041.4" cy="260.7" r="5.7"/>
<circle cx="1048.1" cy="262.6" r="5.7"/>
<circle cx="1049.7" cy="258.9" r="5.7"/>
<circle cx="978.1" cy="281.2" r="5.7"/>
<circle cx="1012.4" cy="280.0" r="5.7"/>
<circle cx="1014.3" cy="287.3" r="5.7"/>
<circle cx="1012.4" cy="289.7" r="5.7"/>
<circle cx="1031.3" cy="278.6" r="5.7"/>
<circle cx="1032.1" cy="279.2" r="5.7"/>
<circle cx="1059.9" cy="290.4" r="5.7"/>
<circle cx="1006.0" cy="307.7" r="5.7"/>
<circle cx="1003.3" cy="310.9" r="5.7"/>
<circle cx="1069.8" cy="309.2" r="5.7"/>
<circle cx="1027.8" cy="319.8" r="5.7"/>
<circle cx="1053.0" cy="315.8" r="5.7"/>
<circle cx="1046.6" cy="322.2" r="5.7"/>
<circle cx="969.8" cy="319.6" r="5.7"/>
<circle cx="994.0" cy="322.7" r="5.7"/>
<circle cx="999.8" cy="321.0" r="5.7"/>
<circle cx="1069.4" cy="320.2" r="5.7"/>
<circle cx="1071.4" cy="326.0" r="5.7"/>
<circle cx="1077.2" cy="331.8" r="5.7"/>
<circle cx="1073.3" cy="332.8" r="5.7"/>
<circle cx="1065.9" cy="333.4" r="5.7"/>
<circle cx="1017.2" cy="332.2" r="5.7"/>
<circle cx="1028.8" cy="341.5" r="5.7"/>
<circle cx="965.0" cy="312.5" r="5.7"/>
<circle cx="1013.7" cy="356.2" r="5.7"/>
<circle cx="1063.6" cy="358.7" r="5.7"/>
<circle cx="1072.3" cy="357.7" r="5.7"/>
<circle cx="1086.8" cy="362.0" r="5.7"/>
<circle cx="1098.4" cy="356.8" r="5.7"/>
<circle cx="1103.3" cy="359.7" r="5.7"/>
<circle cx="1039.4" cy="375.1" r="5.7"/>
<circle cx="1046.2" cy="376.1" r="5.7"/>
<circle cx="1047.2" cy="378.0" r="5.7"/>
<circle cx="1044.3" cy="383.8" r="5.7"/>
<circle cx="1041.4" cy="385.8" r="5.7"/>
<circle cx="1040.4" cy="389.6" r="5.7"/>
<circle cx="1054.9" cy="384.8" r="5.7"/>
<circle cx="1059.8" cy="382.9" r="5.7"/>
<circle cx="1058.8" cy="387.7" r="5.7"/>
<circle cx="1089.7" cy="386.4" r="5.7"/>
<circle cx="1102.3" cy="384.8" r="5.7"/>
<circle cx="1016.8" cy="394.9" r="5.7"/>
<circle cx="1017.8" cy="397.0" r="5.7"/>
<circle cx="1046.2" cy="396.4" r="5.7"/>
<circle cx="1054.9" cy="398.3" r="5.7"/>
<circle cx="1048.1" cy="404.7" r="5.7"/>
<circle cx="1077.7" cy="402.8" r="5.7"/>
<circle cx="1027.8" cy="406.7" r="5.7"/>
<circle cx="1021.7" cy="410.5" r="5.7"/>
<circle cx="1028.8" cy="415.7" r="5.7"/>
<circle cx="1036.5" cy="415.4" r="5.7"/>
<circle cx="1037.5" cy="417.7" r="5.7"/>
<circle cx="1031.7" cy="421.5" r="5.7"/>
<circle cx="1055.5" cy="416.5" r="5.7"/>
<circle cx="1042.9" cy="433.3" r="5.7"/>
<circle cx="1052.0" cy="443.8" r="5.7"/>
<circle cx="1068.6" cy="444.2" r="5.7"/>
<circle cx="1038.1" cy="450.6" r="5.7"/>
<circle cx="1036.9" cy="450.9" r="5.7"/>
<circle cx="1076.2" cy="451.5" r="5.7"/>
<circle cx="1081.0" cy="450.6" r="5.7"/>
<circle cx="1086.8" cy="452.1" r="5.7"/>
<circle cx="1072.3" cy="458.3" r="5.7"/>
<circle cx="1085.9" cy="459.3" r="5.7"/>
<circle cx="1080.1" cy="461.8" r="5.7"/>
<circle cx="1122.4" cy="354.8" r="5.7"/>
<circle cx="1108.9" cy="359.7" r="5.7"/>
<circle cx="1116.6" cy="359.7" r="5.7"/>
<circle cx="1171.7" cy="354.8" r="5.7"/>
<circle cx="1174.6" cy="374.2" r="5.7"/>
<circle cx="1158.2" cy="379.0" r="5.7"/>
<circle cx="1127.2" cy="377.1" r="5.7"/>
<circle cx="1135.0" cy="378.6" r="5.7"/>
<circle cx="1129.2" cy="385.8" r="5.7"/>
<circle cx="1156.6" cy="397.4" r="5.7"/>
<circle cx="1152.4" cy="404.1" r="5.7"/>
<circle cx="1151.4" cy="407.0" r="5.7"/>
<circle cx="1135.9" cy="413.8" r="5.7"/>
<circle cx="1148.5" cy="416.7" r="5.7"/>
<circle cx="1150.4" cy="418.6" r="5.7"/>
<circle cx="1157.2" cy="419.6" r="5.7"/>
<circle cx="1159.1" cy="420.6" r="5.7"/>
</g>
<g fill="#dc291a" stroke="#000" stroke-width="0.75">
<circle cx="1094.9" cy="465.6" r="5.7"/>
<circle cx="1083.0" cy="473.8" r="5.7"/>
<circle cx="1092.2" cy="473.8" r="5.7"/>
<circle cx="968.9" cy="478.8" r="5.7"/>
<circle cx="1002.7" cy="483.4" r="5.7"/>
<circle cx="1011.4" cy="486.3" r="5.7"/>
<circle cx="1020.1" cy="487.7" r="5.7"/>
<circle cx="1026.9" cy="485.0" r="5.7"/>
<circle cx="1081.0" cy="487.3" r="5.7"/>
<circle cx="1083.9" cy="487.7" r="5.7"/>
<circle cx="1094.6" cy="488.3" r="5.7"/>
<circle cx="1138.8" cy="466.0" r="5.7"/>
<circle cx="1129.2" cy="467.0" r="5.7"/>
<circle cx="1118.5" cy="472.8" r="5.7"/>
<circle cx="1127.2" cy="471.4" r="5.7"/>
<circle cx="1111.8" cy="476.7" r="5.7"/>
<circle cx="1134.0" cy="477.6" r="5.7"/>
<circle cx="1142.7" cy="480.5" r="5.7"/>
<circle cx="1135.9" cy="481.9" r="5.7"/>
<circle cx="1126.3" cy="481.5" r="5.7"/>
<circle cx="1132.1" cy="487.3" r="5.7"/>
<circle cx="1172.7" cy="479.6" r="5.7"/>
<circle cx="1180.8" cy="481.9" r="5.7"/>
<circle cx="1234.9" cy="479.6" r="5.7"/>
<circle cx="1378.4" cy="458.7" r="5.7"/>
<circle cx="1380.4" cy="459.3" r="5.7"/>
<circle cx="1339.4" cy="477.6" r="5.7"/>
<circle cx="1344.0" cy="487.7" r="5.7"/>
<circle cx="1356.6" cy="485.7" r="5.7"/>
<circle cx="1381.3" cy="484.4" r="5.7"/>
<circle cx="1398.8" cy="461.8" r="5.7"/>
<circle cx="1392.0" cy="471.4" r="5.7"/>
<circle cx="1419.1" cy="470.7" r="5.7"/>
<circle cx="1394.0" cy="485.4" r="5.7"/>
<circle cx="1405.0" cy="486.3" r="5.7"/>
<circle cx="1409.4" cy="484.4" r="5.7"/>
<circle cx="1410.2" cy="486.3" r="5.7"/>
<circle cx="1503.6" cy="477.6" r="5.7"/>
<circle cx="957.8" cy="492.3" r="5.7"/>
<circle cx="957.8" cy="494.8" r="5.7"/>
<circle cx="1004.4" cy="503.5" r="5.7"/>
<circle cx="940.4" cy="519.6" r="5.7"/>
<circle cx="1038.8" cy="522.9" r="5.7"/>
<circle cx="1026.8" cy="558.1" r="5.7"/>
<circle cx="1006.1" cy="587.3" r="5.7"/>
<circle cx="994.5" cy="592.5" r="5.7"/>
<circle cx="1082.7" cy="494.8" r="5.7"/>
<circle cx="1069.2" cy="503.9" r="5.7"/>
<circle cx="1077.9" cy="512.2" r="5.7"/>
<circle cx="1070.1" cy="524.4" r="5.7"/>
<circle cx="1180.9" cy="502.0" r="5.7"/>
<circle cx="1078.8" cy="552.3" r="5.7"/>
<circle cx="1090.8" cy="551.5" r="5.7"/>
<circle cx="1092.4" cy="552.8" r="5.7"/>
<circle cx="1404.0" cy="490.6" r="5.7"/>
<circle cx="1454.9" cy="496.8" r="5.7"/>
<circle cx="1446.2" cy="502.6" r="5.7"/>
<circle cx="1450.4" cy="539.9" r="5.7"/>
<circle cx="1452.3" cy="542.2" r="5.7"/>
<circle cx="1464.0" cy="551.3" r="5.7"/>
<circle cx="1493.5" cy="542.8" r="5.7"/>
<circle cx="1445.2" cy="558.1" r="5.7"/>
<circle cx="1439.4" cy="565.4" r="5.7"/>
<circle cx="1445.2" cy="566.8" r="5.7"/>
<circle cx="1428.8" cy="572.8" r="5.7"/>
<circle cx="1440.7" cy="580.5" r="5.7"/>
<circle cx="1380.8" cy="614.7" r="5.7"/>
<circle cx="1332.1" cy="497.7" r="5.7"/>
<circle cx="1339.8" cy="499.7" r="5.7"/>
<circle cx="1353.3" cy="500.6" r="5.7"/>
<circle cx="1330.1" cy="503.0" r="5.7"/>
<circle cx="1351.4" cy="505.9" r="5.7"/>
<circle cx="1336.9" cy="509.9" r="5.7"/>
<circle cx="1346.0" cy="515.1" r="5.7"/>
<circle cx="1362.4" cy="516.7" r="5.7"/>
<circle cx="1326.3" cy="525.8" r="5.7"/>
<circle cx="1324.0" cy="527.7" r="5.7"/>
<circle cx="1331.7" cy="528.3" r="5.7"/>
<circle cx="1318.0" cy="532.9" r="5.7"/>
<circle cx="1312.7" cy="547.0" r="5.7"/>
<circle cx="1316.6" cy="548.4" r="5.7"/>
<circle cx="1342.7" cy="552.3" r="5.7"/>
<circle cx="1335.4" cy="555.7" r="5.7"/>
<circle cx="1316.6" cy="561.5" r="5.7"/>
<circle cx="1326.3" cy="564.8" r="5.7"/>
<circle cx="1347.9" cy="563.1" r="5.7"/>
<circle cx="1346.2" cy="579.0" r="5.7"/>
<circle cx="1185.0" cy="502.0" r="5.7"/>
<circle cx="1207.2" cy="500.6" r="5.7"/>
<circle cx="1200.1" cy="516.5" r="5.7"/>
<circle cx="1243.6" cy="534.5" r="5.7"/>
<circle cx="953.7" cy="467.7" r="5.7"/>
<circle cx="937.9" cy="480.6" r="5.7"/>
</g>
</g>
<rect x="908.0" y="0.6" width="605.5999999999999" height="628.6999999999999" fill="none" stroke="#1a1a1a" stroke-width="1.6"/>
<text x="918.2" y="45" class="b">b</text>
</svg>
</body></html>
